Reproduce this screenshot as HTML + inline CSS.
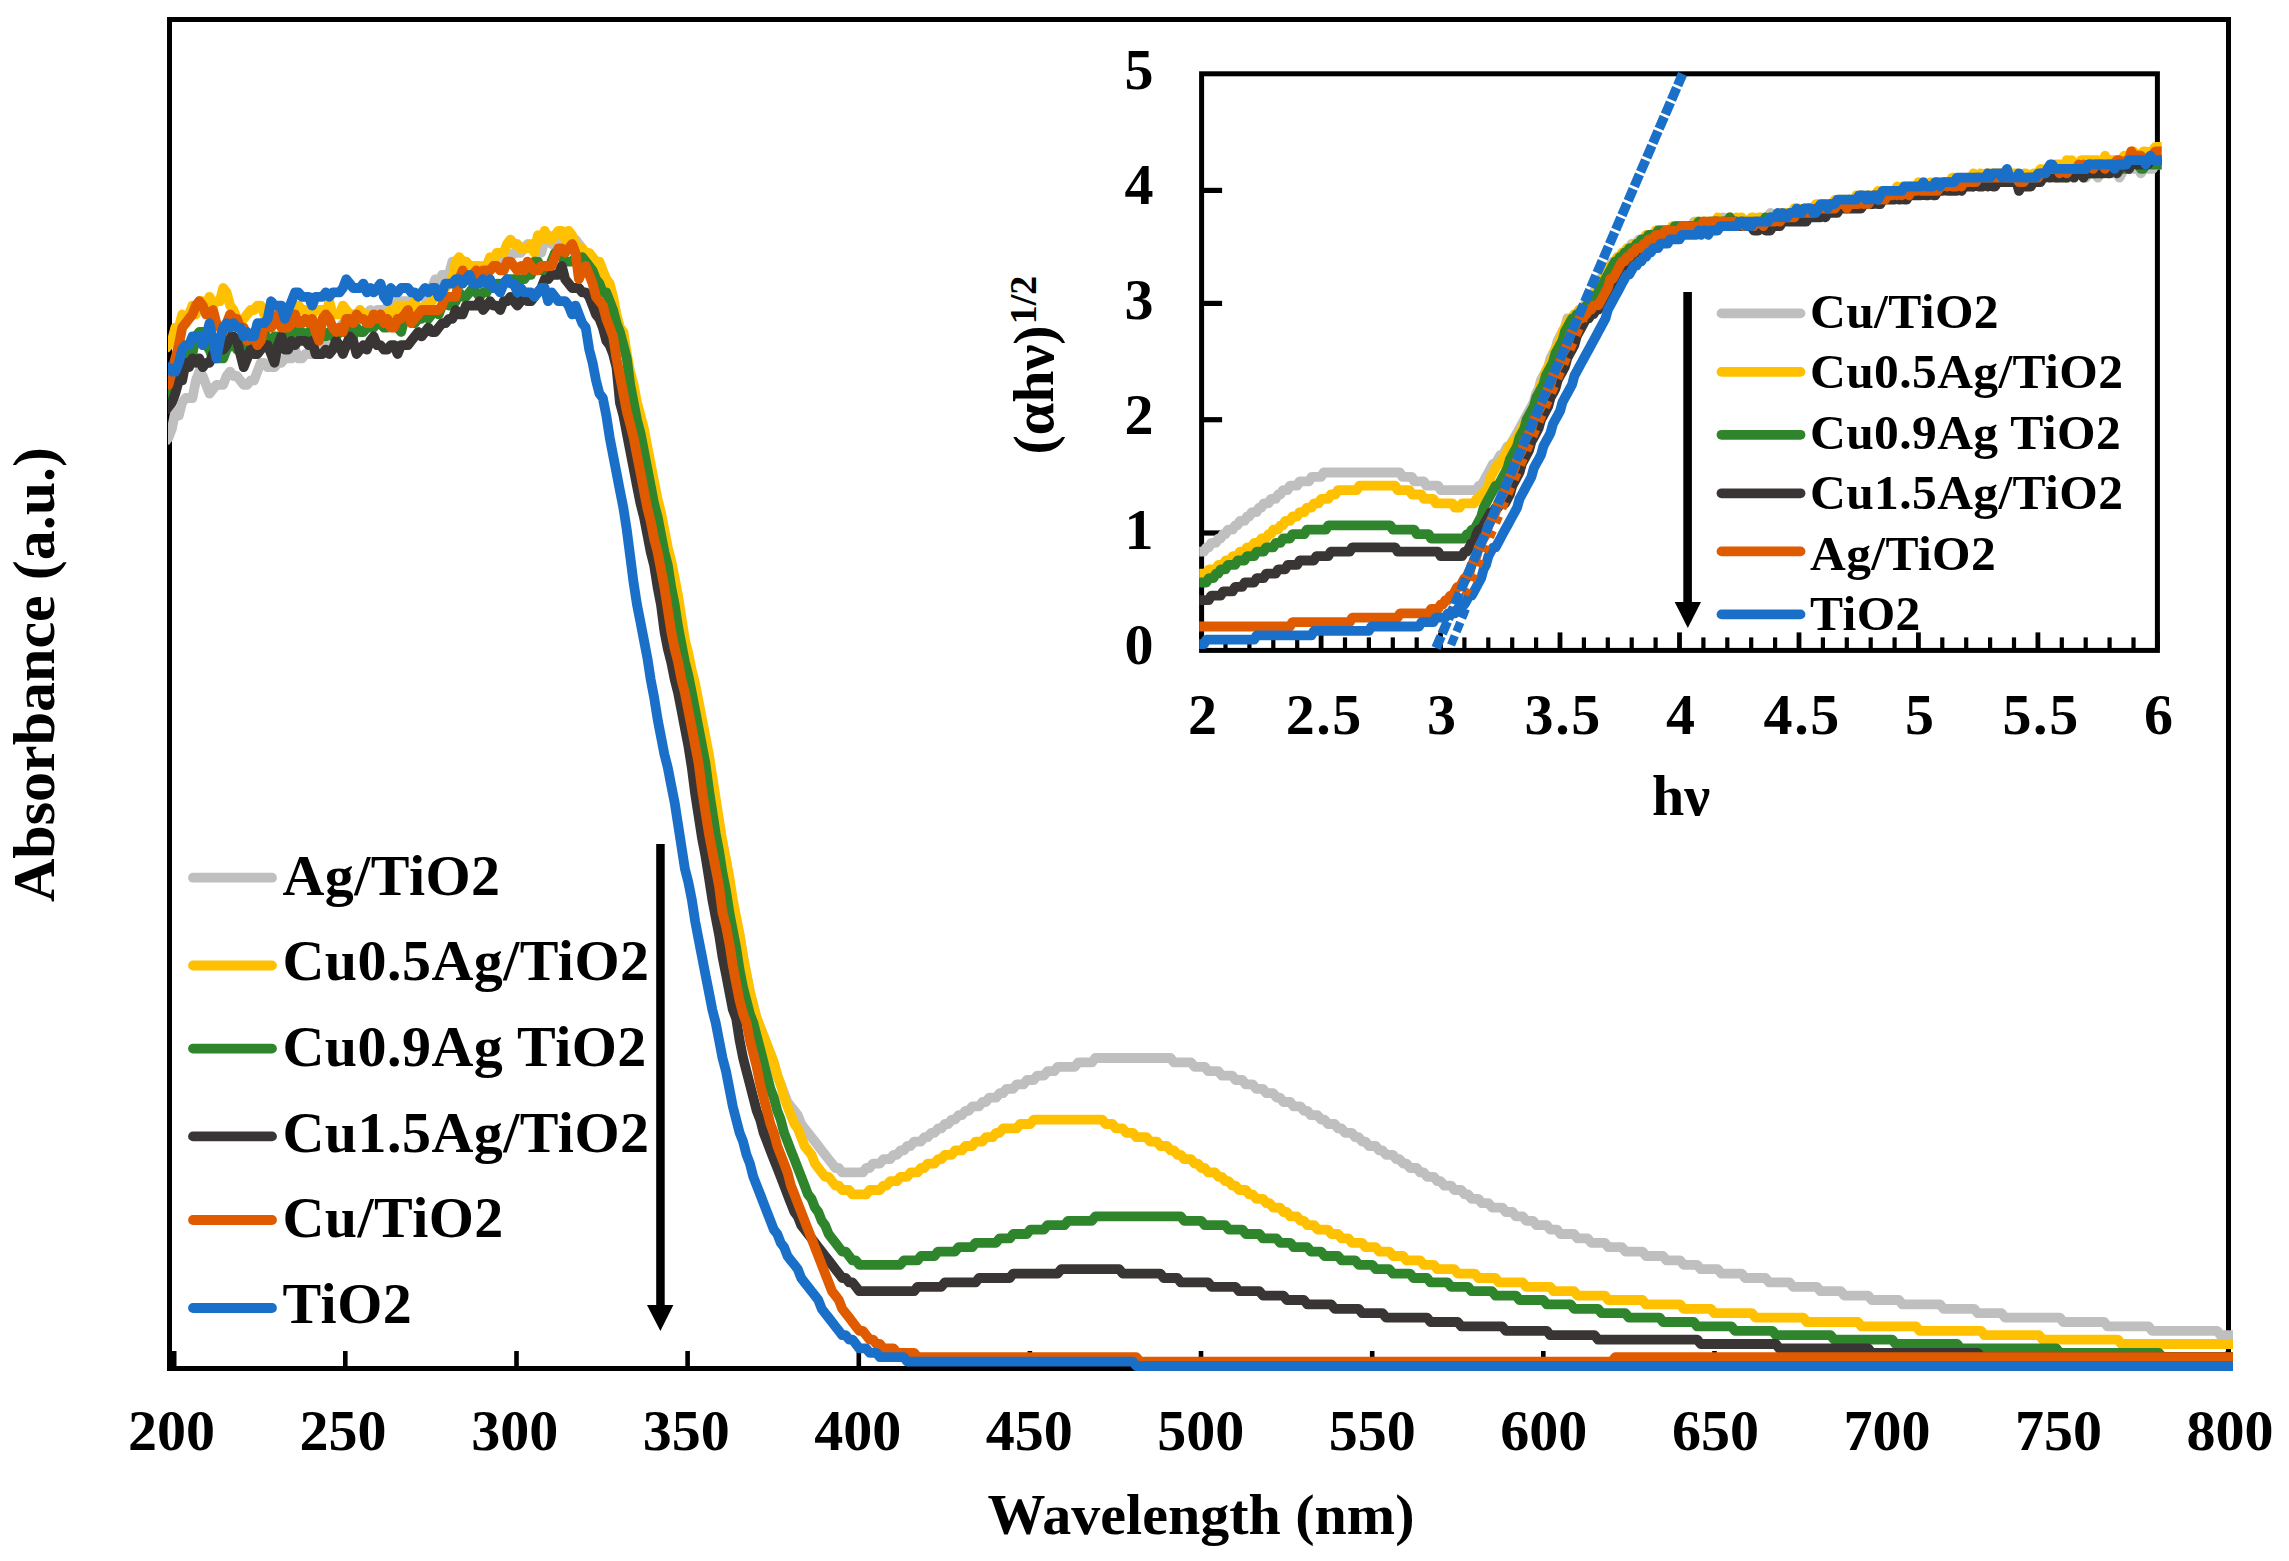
<!DOCTYPE html>
<html lang="en"><head><meta charset="utf-8"><title>UV-Vis absorbance</title>
<style>html,body{margin:0;padding:0;background:#fff}svg{display:block}</style></head>
<body>
<svg width="2289" height="1561" viewBox="0 0 2289 1561" role="img" aria-label="UV-Vis absorbance spectra with Tauc plot inset">
<rect width="2289" height="1561" fill="#fff"/>
<rect x="169.5" y="19.5" width="2059" height="1349" fill="none" stroke="#000" stroke-width="5"/>
<rect x="171.9" y="1351" width="4.6" height="16" fill="#000"/>
<rect x="343.0" y="1351" width="4.6" height="16" fill="#000"/>
<rect x="514.2" y="1351" width="4.6" height="16" fill="#000"/>
<rect x="685.3" y="1351" width="4.6" height="16" fill="#000"/>
<rect x="856.5" y="1351" width="4.6" height="16" fill="#000"/>
<rect x="1027.6" y="1351" width="4.6" height="16" fill="#000"/>
<rect x="1198.7" y="1351" width="4.6" height="16" fill="#000"/>
<rect x="1369.9" y="1351" width="4.6" height="16" fill="#000"/>
<rect x="1541.0" y="1351" width="4.6" height="16" fill="#000"/>
<rect x="1712.2" y="1351" width="4.6" height="16" fill="#000"/>
<rect x="1883.3" y="1351" width="4.6" height="16" fill="#000"/>
<rect x="2054.4" y="1351" width="4.6" height="16" fill="#000"/>
<rect x="2225.6" y="1351" width="4.6" height="16" fill="#000"/>
<defs><clipPath id="cm"><rect x="168" y="0" width="2065" height="1561"/></clipPath><clipPath id="ci"><rect x="1199.2" y="0" width="962.5" height="1561"/></clipPath></defs>
<g clip-path="url(#cm)">
<polyline points="165.1,442.0 168.5,437.6 171.9,428.8 175.3,411.2 178.8,415.6 182.2,402.4 185.6,398.0 189.0,398.0 192.4,398.0 195.9,380.4 199.3,371.6 202.7,376.0 206.1,384.8 209.5,393.6 213.0,389.2 216.4,384.8 219.8,384.8 223.2,384.8 226.6,376.0 230.1,371.6 233.5,376.0 236.9,376.0 240.3,380.4 243.7,384.8 247.2,384.8 250.6,380.4 254.0,380.4 257.4,371.6 260.8,362.8 264.3,362.8 267.7,367.2 271.1,367.2 274.5,367.2 277.9,362.8 281.4,362.8 284.8,358.4 288.2,358.4 291.6,358.4 295.0,349.6 298.5,358.4 301.9,358.4 305.3,354.0 308.7,354.0 312.1,354.0 315.6,354.0 319.0,345.2 322.4,349.6 325.8,349.6 329.2,336.4 332.7,336.4 336.1,336.4 339.5,327.6 342.9,323.2 346.3,318.8 349.8,318.8 353.2,314.4 356.6,318.8 360.0,310.0 363.4,314.4 366.9,314.4 370.3,310.0 373.7,314.4 377.1,310.0 380.5,310.0 384.0,318.8 387.4,305.6 390.8,305.6 394.2,314.4 397.6,301.2 401.1,301.2 404.5,301.2 407.9,301.2 411.3,301.2 414.7,305.6 418.2,310.0 421.6,310.0 425.0,305.6 428.4,296.8 431.8,288.0 435.3,279.2 438.7,283.6 442.1,274.8 445.5,274.8 448.9,274.8 452.4,261.6 455.8,261.6 459.2,261.6 462.6,266.0 466.0,261.6 469.5,266.0 472.9,266.0 476.3,270.4 479.7,274.8 483.1,266.0 486.6,270.4 490.0,270.4 493.4,266.0 496.8,257.2 500.2,261.6 503.7,257.2 507.1,257.2 510.5,257.2 513.9,252.8 517.3,252.8 520.8,252.8 524.2,248.4 527.6,244.0 531.0,248.4 534.4,248.4 537.9,244.0 541.3,252.8 544.7,239.6 548.1,235.2 551.5,244.0 555.0,239.6 558.4,239.6 561.8,239.6 565.2,239.6 568.6,239.6 572.1,239.6 575.5,239.6 578.9,244.0 582.3,248.4 585.7,257.2 589.2,257.2 592.6,266.0 596.0,270.4 599.4,274.8 602.8,283.6 606.3,288.0 609.7,296.8 613.1,305.6 616.5,318.8 619.9,327.6 623.4,340.8 626.8,358.4 630.2,376.0 633.6,393.6 637.0,406.8 640.5,424.4 643.9,437.6 647.3,455.2 650.7,472.8 654.1,490.4 657.6,503.6 661.0,521.2 664.4,538.8 667.8,552.0 671.2,569.6 674.7,587.2 678.1,604.8 681.5,626.8 684.9,644.4 688.3,657.6 691.8,675.2 695.2,688.4 698.6,706.0 702.0,723.6 705.4,741.2 708.9,758.8 712.3,780.8 715.7,802.8 719.1,824.8 722.5,842.4 726.0,860.0 729.4,882.0 732.8,904.0 736.2,921.6 739.6,934.8 743.1,956.8 746.5,974.4 749.9,992.0 753.3,1005.2 756.7,1018.4 760.2,1027.2 763.6,1036.0 767.0,1044.8 770.4,1053.6 773.8,1062.4 777.3,1075.6 780.7,1084.4 784.1,1093.2 787.5,1102.0 790.9,1106.4 794.4,1110.8 797.8,1115.2 801.2,1124.0 804.6,1128.4 808.0,1132.8 811.5,1137.2 814.9,1141.6 818.3,1146.0 821.7,1150.4 825.1,1154.8 828.6,1159.2 832.0,1163.6 835.4,1168.0 838.8,1168.0 842.2,1172.4 845.7,1172.4 849.1,1172.4 852.5,1172.4 855.9,1172.4 859.3,1172.4 862.8,1172.4 866.2,1168.0 869.6,1168.0 873.0,1163.6 876.4,1163.6 879.9,1163.6 883.3,1159.2 886.7,1159.2 890.1,1159.2 893.5,1154.8 897.0,1154.8 900.4,1150.4 903.8,1150.4 907.2,1146.0 910.6,1146.0 914.1,1141.6 917.5,1141.6 920.9,1141.6 924.3,1137.2 927.7,1137.2 931.2,1132.8 934.6,1132.8 938.0,1128.4 941.4,1128.4 944.8,1124.0 948.3,1124.0 951.7,1119.6 955.1,1119.6 958.5,1115.2 961.9,1115.2 965.4,1110.8 968.8,1110.8 972.2,1106.4 975.6,1106.4 979.0,1106.4 982.5,1102.0 985.9,1102.0 989.3,1097.6 992.7,1097.6 996.1,1097.6 999.6,1093.2 1003.0,1093.2 1006.4,1088.8 1009.8,1088.8 1013.2,1088.8 1016.7,1084.4 1020.1,1084.4 1023.5,1084.4 1026.9,1080.0 1030.3,1080.0 1033.8,1080.0 1037.2,1075.6 1040.6,1075.6 1044.0,1075.6 1047.4,1071.2 1050.9,1071.2 1054.3,1071.2 1057.7,1066.8 1061.1,1066.8 1064.5,1066.8 1068.0,1066.8 1071.4,1066.8 1074.8,1066.8 1078.2,1062.4 1081.6,1062.4 1085.1,1062.4 1088.5,1062.4 1091.9,1062.4 1095.3,1058.0 1098.7,1058.0 1102.2,1058.0 1105.6,1058.0 1109.0,1058.0 1112.4,1058.0 1115.8,1058.0 1119.3,1058.0 1122.7,1058.0 1126.1,1058.0 1129.5,1058.0 1132.9,1058.0 1136.4,1058.0 1139.8,1058.0 1143.2,1058.0 1146.6,1058.0 1150.0,1058.0 1153.5,1058.0 1156.9,1058.0 1160.3,1058.0 1163.7,1058.0 1167.1,1058.0 1170.6,1058.0 1174.0,1062.4 1177.4,1062.4 1180.8,1062.4 1184.2,1062.4 1187.7,1062.4 1191.1,1062.4 1194.5,1066.8 1197.9,1066.8 1201.3,1066.8 1204.8,1066.8 1208.2,1071.2 1211.6,1071.2 1215.0,1071.2 1218.4,1071.2 1221.9,1075.6 1225.3,1075.6 1228.7,1075.6 1232.1,1075.6 1235.5,1080.0 1239.0,1080.0 1242.4,1080.0 1245.8,1084.4 1249.2,1084.4 1252.6,1084.4 1256.1,1088.8 1259.5,1088.8 1262.9,1088.8 1266.3,1093.2 1269.7,1093.2 1273.2,1093.2 1276.6,1097.6 1280.0,1097.6 1283.4,1102.0 1286.8,1102.0 1290.3,1102.0 1293.7,1106.4 1297.1,1106.4 1300.5,1106.4 1303.9,1110.8 1307.4,1110.8 1310.8,1115.2 1314.2,1115.2 1317.6,1115.2 1321.0,1119.6 1324.5,1119.6 1327.9,1124.0 1331.3,1124.0 1334.7,1124.0 1338.1,1128.4 1341.6,1128.4 1345.0,1132.8 1348.4,1132.8 1351.8,1132.8 1355.2,1137.2 1358.7,1137.2 1362.1,1141.6 1365.5,1141.6 1368.9,1146.0 1372.3,1146.0 1375.8,1146.0 1379.2,1150.4 1382.6,1150.4 1386.0,1154.8 1389.4,1154.8 1392.9,1154.8 1396.3,1159.2 1399.7,1159.2 1403.1,1163.6 1406.5,1163.6 1410.0,1168.0 1413.4,1168.0 1416.8,1168.0 1420.2,1172.4 1423.6,1172.4 1427.1,1176.8 1430.5,1176.8 1433.9,1176.8 1437.3,1181.2 1440.7,1181.2 1444.2,1185.6 1447.6,1185.6 1451.0,1185.6 1454.4,1190.0 1457.8,1190.0 1461.3,1190.0 1464.7,1194.4 1468.1,1194.4 1471.5,1198.8 1474.9,1198.8 1478.4,1198.8 1481.8,1203.2 1485.2,1203.2 1488.6,1203.2 1492.0,1207.6 1495.5,1207.6 1498.9,1207.6 1502.3,1207.6 1505.7,1212.0 1509.1,1212.0 1512.6,1212.0 1516.0,1216.4 1519.4,1216.4 1522.8,1216.4 1526.2,1220.8 1529.7,1220.8 1533.1,1220.8 1536.5,1225.2 1539.9,1225.2 1543.3,1225.2 1546.8,1225.2 1550.2,1229.6 1553.6,1229.6 1557.0,1229.6 1560.4,1234.0 1563.9,1234.0 1567.3,1234.0 1570.7,1234.0 1574.1,1234.0 1577.5,1238.4 1581.0,1238.4 1584.4,1238.4 1587.8,1238.4 1591.2,1242.8 1594.6,1242.8 1598.1,1242.8 1601.5,1242.8 1604.9,1242.8 1608.3,1247.2 1611.7,1247.2 1615.2,1247.2 1618.6,1247.2 1622.0,1247.2 1625.4,1251.6 1628.8,1251.6 1632.3,1251.6 1635.7,1251.6 1639.1,1251.6 1642.5,1251.6 1645.9,1256.0 1649.4,1256.0 1652.8,1256.0 1656.2,1256.0 1659.6,1256.0 1663.0,1256.0 1666.5,1260.4 1669.9,1260.4 1673.3,1260.4 1676.7,1260.4 1680.1,1260.4 1683.6,1264.8 1687.0,1264.8 1690.4,1264.8 1693.8,1264.8 1697.2,1264.8 1700.7,1269.2 1704.1,1269.2 1707.5,1269.2 1710.9,1269.2 1714.3,1269.2 1717.8,1269.2 1721.2,1273.6 1724.6,1273.6 1728.0,1273.6 1731.4,1273.6 1734.9,1273.6 1738.3,1273.6 1741.7,1273.6 1745.1,1278.0 1748.5,1278.0 1752.0,1278.0 1755.4,1278.0 1758.8,1278.0 1762.2,1278.0 1765.6,1278.0 1769.1,1282.4 1772.5,1282.4 1775.9,1282.4 1779.3,1282.4 1782.7,1282.4 1786.2,1282.4 1789.6,1282.4 1793.0,1286.8 1796.4,1286.8 1799.8,1286.8 1803.3,1286.8 1806.7,1286.8 1810.1,1286.8 1813.5,1286.8 1816.9,1286.8 1820.4,1291.2 1823.8,1291.2 1827.2,1291.2 1830.6,1291.2 1834.0,1291.2 1837.5,1291.2 1840.9,1291.2 1844.3,1295.6 1847.7,1295.6 1851.1,1295.6 1854.6,1295.6 1858.0,1295.6 1861.4,1295.6 1864.8,1295.6 1868.2,1295.6 1871.7,1300.0 1875.1,1300.0 1878.5,1300.0 1881.9,1300.0 1885.3,1300.0 1888.8,1300.0 1892.2,1300.0 1895.6,1300.0 1899.0,1300.0 1902.4,1304.4 1905.9,1304.4 1909.3,1304.4 1912.7,1304.4 1916.1,1304.4 1919.5,1304.4 1923.0,1304.4 1926.4,1304.4 1929.8,1304.4 1933.2,1304.4 1936.6,1304.4 1940.1,1304.4 1943.5,1308.8 1946.9,1308.8 1950.3,1308.8 1953.7,1308.8 1957.2,1308.8 1960.6,1308.8 1964.0,1308.8 1967.4,1308.8 1970.8,1308.8 1974.3,1308.8 1977.7,1313.2 1981.1,1313.2 1984.5,1313.2 1987.9,1313.2 1991.4,1313.2 1994.8,1313.2 1998.2,1313.2 2001.6,1313.2 2005.0,1317.6 2008.5,1317.6 2011.9,1317.6 2015.3,1317.6 2018.7,1317.6 2022.1,1317.6 2025.6,1317.6 2029.0,1317.6 2032.4,1317.6 2035.8,1317.6 2039.2,1317.6 2042.7,1317.6 2046.1,1317.6 2049.5,1317.6 2052.9,1317.6 2056.3,1317.6 2059.8,1317.6 2063.2,1322.0 2066.6,1322.0 2070.0,1322.0 2073.4,1322.0 2076.9,1322.0 2080.3,1322.0 2083.7,1322.0 2087.1,1322.0 2090.5,1322.0 2094.0,1322.0 2097.4,1322.0 2100.8,1322.0 2104.2,1322.0 2107.6,1326.4 2111.1,1326.4 2114.5,1326.4 2117.9,1326.4 2121.3,1326.4 2124.7,1326.4 2128.2,1326.4 2131.6,1326.4 2135.0,1326.4 2138.4,1326.4 2141.8,1326.4 2145.3,1326.4 2148.7,1326.4 2152.1,1330.8 2155.5,1330.8 2158.9,1330.8 2162.4,1330.8 2165.8,1330.8 2169.2,1330.8 2172.6,1330.8 2176.0,1330.8 2179.5,1330.8 2182.9,1330.8 2186.3,1330.8 2189.7,1330.8 2193.1,1330.8 2196.6,1330.8 2200.0,1330.8 2203.4,1330.8 2206.8,1330.8 2210.2,1330.8 2213.7,1330.8 2217.1,1330.8 2220.5,1335.2 2223.9,1335.2 2227.3,1335.2 2236.0,1335.2" fill="none" stroke="#BFBFBF" stroke-width="9.8" stroke-linejoin="round" stroke-linecap="butt" />
<polyline points="165.1,349.6 168.5,345.2 171.9,340.8 175.3,327.6 178.8,327.6 182.2,314.4 185.6,318.8 189.0,314.4 192.4,305.6 195.9,314.4 199.3,301.2 202.7,301.2 206.1,305.6 209.5,296.8 213.0,305.6 216.4,301.2 219.8,301.2 223.2,288.0 226.6,292.4 230.1,305.6 233.5,310.0 236.9,318.8 240.3,323.2 243.7,318.8 247.2,314.4 250.6,310.0 254.0,310.0 257.4,305.6 260.8,305.6 264.3,314.4 267.7,314.4 271.1,318.8 274.5,318.8 277.9,318.8 281.4,318.8 284.8,318.8 288.2,314.4 291.6,310.0 295.0,310.0 298.5,305.6 301.9,310.0 305.3,310.0 308.7,318.8 312.1,314.4 315.6,310.0 319.0,310.0 322.4,310.0 325.8,318.8 329.2,301.2 332.7,314.4 336.1,314.4 339.5,314.4 342.9,305.6 346.3,310.0 349.8,314.4 353.2,314.4 356.6,314.4 360.0,310.0 363.4,314.4 366.9,314.4 370.3,318.8 373.7,314.4 377.1,314.4 380.5,314.4 384.0,314.4 387.4,314.4 390.8,310.0 394.2,314.4 397.6,305.6 401.1,305.6 404.5,305.6 407.9,305.6 411.3,310.0 414.7,301.2 418.2,310.0 421.6,310.0 425.0,305.6 428.4,305.6 431.8,301.2 435.3,296.8 438.7,292.4 442.1,288.0 445.5,288.0 448.9,283.6 452.4,279.2 455.8,261.6 459.2,257.2 462.6,261.6 466.0,261.6 469.5,266.0 472.9,266.0 476.3,266.0 479.7,266.0 483.1,270.4 486.6,266.0 490.0,257.2 493.4,261.6 496.8,252.8 500.2,252.8 503.7,252.8 507.1,244.0 510.5,239.6 513.9,244.0 517.3,244.0 520.8,248.4 524.2,248.4 527.6,248.4 531.0,244.0 534.4,252.8 537.9,235.2 541.3,239.6 544.7,230.8 548.1,239.6 551.5,239.6 555.0,235.2 558.4,230.8 561.8,230.8 565.2,239.6 568.6,230.8 572.1,235.2 575.5,244.0 578.9,248.4 582.3,248.4 585.7,252.8 589.2,252.8 592.6,257.2 596.0,261.6 599.4,261.6 602.8,270.4 606.3,279.2 609.7,283.6 613.1,296.8 616.5,314.4 619.9,327.6 623.4,332.0 626.8,354.0 630.2,371.6 633.6,384.8 637.0,402.4 640.5,415.6 643.9,428.8 647.3,446.4 650.7,464.0 654.1,481.6 657.6,499.2 661.0,512.4 664.4,530.0 667.8,547.6 671.2,560.8 674.7,578.4 678.1,596.0 681.5,618.0 684.9,640.0 688.3,653.2 691.8,670.8 695.2,684.0 698.6,701.6 702.0,719.2 705.4,736.8 708.9,754.4 712.3,776.4 715.7,798.4 719.1,820.4 722.5,842.4 726.0,860.0 729.4,877.6 732.8,899.6 736.2,917.2 739.6,934.8 743.1,956.8 746.5,974.4 749.9,992.0 753.3,1005.2 756.7,1018.4 760.2,1027.2 763.6,1036.0 767.0,1044.8 770.4,1053.6 773.8,1062.4 777.3,1075.6 780.7,1084.4 784.1,1097.6 787.5,1106.4 790.9,1115.2 794.4,1124.0 797.8,1128.4 801.2,1137.2 804.6,1146.0 808.0,1150.4 811.5,1154.8 814.9,1163.6 818.3,1168.0 821.7,1172.4 825.1,1176.8 828.6,1176.8 832.0,1181.2 835.4,1185.6 838.8,1185.6 842.2,1190.0 845.7,1190.0 849.1,1190.0 852.5,1194.4 855.9,1194.4 859.3,1194.4 862.8,1194.4 866.2,1194.4 869.6,1190.0 873.0,1190.0 876.4,1190.0 879.9,1190.0 883.3,1185.6 886.7,1185.6 890.1,1181.2 893.5,1181.2 897.0,1181.2 900.4,1176.8 903.8,1176.8 907.2,1176.8 910.6,1172.4 914.1,1172.4 917.5,1172.4 920.9,1168.0 924.3,1168.0 927.7,1163.6 931.2,1163.6 934.6,1163.6 938.0,1159.2 941.4,1159.2 944.8,1154.8 948.3,1154.8 951.7,1154.8 955.1,1150.4 958.5,1150.4 961.9,1150.4 965.4,1146.0 968.8,1146.0 972.2,1146.0 975.6,1141.6 979.0,1141.6 982.5,1141.6 985.9,1137.2 989.3,1137.2 992.7,1137.2 996.1,1132.8 999.6,1132.8 1003.0,1128.4 1006.4,1128.4 1009.8,1128.4 1013.2,1128.4 1016.7,1128.4 1020.1,1124.0 1023.5,1124.0 1026.9,1124.0 1030.3,1124.0 1033.8,1119.6 1037.2,1119.6 1040.6,1119.6 1044.0,1119.6 1047.4,1119.6 1050.9,1119.6 1054.3,1119.6 1057.7,1119.6 1061.1,1119.6 1064.5,1119.6 1068.0,1119.6 1071.4,1119.6 1074.8,1119.6 1078.2,1119.6 1081.6,1119.6 1085.1,1119.6 1088.5,1119.6 1091.9,1119.6 1095.3,1119.6 1098.7,1119.6 1102.2,1119.6 1105.6,1124.0 1109.0,1124.0 1112.4,1124.0 1115.8,1128.4 1119.3,1128.4 1122.7,1128.4 1126.1,1132.8 1129.5,1132.8 1132.9,1132.8 1136.4,1137.2 1139.8,1137.2 1143.2,1137.2 1146.6,1137.2 1150.0,1141.6 1153.5,1141.6 1156.9,1141.6 1160.3,1146.0 1163.7,1146.0 1167.1,1146.0 1170.6,1150.4 1174.0,1150.4 1177.4,1154.8 1180.8,1154.8 1184.2,1159.2 1187.7,1159.2 1191.1,1159.2 1194.5,1163.6 1197.9,1163.6 1201.3,1168.0 1204.8,1168.0 1208.2,1172.4 1211.6,1172.4 1215.0,1172.4 1218.4,1176.8 1221.9,1176.8 1225.3,1181.2 1228.7,1181.2 1232.1,1185.6 1235.5,1185.6 1239.0,1190.0 1242.4,1190.0 1245.8,1190.0 1249.2,1194.4 1252.6,1194.4 1256.1,1198.8 1259.5,1198.8 1262.9,1198.8 1266.3,1203.2 1269.7,1203.2 1273.2,1207.6 1276.6,1207.6 1280.0,1207.6 1283.4,1212.0 1286.8,1212.0 1290.3,1216.4 1293.7,1216.4 1297.1,1216.4 1300.5,1220.8 1303.9,1220.8 1307.4,1225.2 1310.8,1225.2 1314.2,1225.2 1317.6,1229.6 1321.0,1229.6 1324.5,1229.6 1327.9,1229.6 1331.3,1234.0 1334.7,1234.0 1338.1,1234.0 1341.6,1238.4 1345.0,1238.4 1348.4,1238.4 1351.8,1242.8 1355.2,1242.8 1358.7,1242.8 1362.1,1242.8 1365.5,1247.2 1368.9,1247.2 1372.3,1247.2 1375.8,1247.2 1379.2,1251.6 1382.6,1251.6 1386.0,1251.6 1389.4,1251.6 1392.9,1256.0 1396.3,1256.0 1399.7,1256.0 1403.1,1256.0 1406.5,1260.4 1410.0,1260.4 1413.4,1260.4 1416.8,1260.4 1420.2,1260.4 1423.6,1264.8 1427.1,1264.8 1430.5,1264.8 1433.9,1264.8 1437.3,1269.2 1440.7,1269.2 1444.2,1269.2 1447.6,1269.2 1451.0,1269.2 1454.4,1269.2 1457.8,1273.6 1461.3,1273.6 1464.7,1273.6 1468.1,1273.6 1471.5,1273.6 1474.9,1273.6 1478.4,1278.0 1481.8,1278.0 1485.2,1278.0 1488.6,1278.0 1492.0,1278.0 1495.5,1278.0 1498.9,1282.4 1502.3,1282.4 1505.7,1282.4 1509.1,1282.4 1512.6,1282.4 1516.0,1282.4 1519.4,1282.4 1522.8,1282.4 1526.2,1286.8 1529.7,1286.8 1533.1,1286.8 1536.5,1286.8 1539.9,1286.8 1543.3,1286.8 1546.8,1286.8 1550.2,1286.8 1553.6,1291.2 1557.0,1291.2 1560.4,1291.2 1563.9,1291.2 1567.3,1291.2 1570.7,1291.2 1574.1,1291.2 1577.5,1295.6 1581.0,1295.6 1584.4,1295.6 1587.8,1295.6 1591.2,1295.6 1594.6,1295.6 1598.1,1295.6 1601.5,1295.6 1604.9,1295.6 1608.3,1300.0 1611.7,1300.0 1615.2,1300.0 1618.6,1300.0 1622.0,1300.0 1625.4,1300.0 1628.8,1300.0 1632.3,1300.0 1635.7,1300.0 1639.1,1300.0 1642.5,1300.0 1645.9,1304.4 1649.4,1304.4 1652.8,1304.4 1656.2,1304.4 1659.6,1304.4 1663.0,1304.4 1666.5,1304.4 1669.9,1304.4 1673.3,1304.4 1676.7,1304.4 1680.1,1304.4 1683.6,1308.8 1687.0,1308.8 1690.4,1308.8 1693.8,1308.8 1697.2,1308.8 1700.7,1308.8 1704.1,1308.8 1707.5,1308.8 1710.9,1308.8 1714.3,1313.2 1717.8,1313.2 1721.2,1313.2 1724.6,1313.2 1728.0,1313.2 1731.4,1313.2 1734.9,1313.2 1738.3,1313.2 1741.7,1313.2 1745.1,1313.2 1748.5,1313.2 1752.0,1313.2 1755.4,1317.6 1758.8,1317.6 1762.2,1317.6 1765.6,1317.6 1769.1,1317.6 1772.5,1317.6 1775.9,1317.6 1779.3,1317.6 1782.7,1317.6 1786.2,1317.6 1789.6,1317.6 1793.0,1317.6 1796.4,1317.6 1799.8,1317.6 1803.3,1317.6 1806.7,1322.0 1810.1,1322.0 1813.5,1322.0 1816.9,1322.0 1820.4,1322.0 1823.8,1322.0 1827.2,1322.0 1830.6,1322.0 1834.0,1322.0 1837.5,1322.0 1840.9,1322.0 1844.3,1322.0 1847.7,1322.0 1851.1,1322.0 1854.6,1322.0 1858.0,1322.0 1861.4,1326.4 1864.8,1326.4 1868.2,1326.4 1871.7,1326.4 1875.1,1326.4 1878.5,1326.4 1881.9,1326.4 1885.3,1326.4 1888.8,1326.4 1892.2,1326.4 1895.6,1326.4 1899.0,1326.4 1902.4,1326.4 1905.9,1326.4 1909.3,1326.4 1912.7,1326.4 1916.1,1326.4 1919.5,1330.8 1923.0,1330.8 1926.4,1330.8 1929.8,1330.8 1933.2,1330.8 1936.6,1330.8 1940.1,1330.8 1943.5,1330.8 1946.9,1330.8 1950.3,1330.8 1953.7,1330.8 1957.2,1330.8 1960.6,1330.8 1964.0,1330.8 1967.4,1330.8 1970.8,1330.8 1974.3,1330.8 1977.7,1330.8 1981.1,1330.8 1984.5,1335.2 1987.9,1335.2 1991.4,1335.2 1994.8,1335.2 1998.2,1335.2 2001.6,1335.2 2005.0,1335.2 2008.5,1335.2 2011.9,1335.2 2015.3,1335.2 2018.7,1335.2 2022.1,1335.2 2025.6,1335.2 2029.0,1335.2 2032.4,1335.2 2035.8,1335.2 2039.2,1335.2 2042.7,1339.6 2046.1,1339.6 2049.5,1339.6 2052.9,1339.6 2056.3,1339.6 2059.8,1339.6 2063.2,1339.6 2066.6,1339.6 2070.0,1339.6 2073.4,1339.6 2076.9,1339.6 2080.3,1339.6 2083.7,1339.6 2087.1,1339.6 2090.5,1339.6 2094.0,1339.6 2097.4,1339.6 2100.8,1339.6 2104.2,1339.6 2107.6,1339.6 2111.1,1339.6 2114.5,1339.6 2117.9,1339.6 2121.3,1344.0 2124.7,1344.0 2128.2,1344.0 2131.6,1344.0 2135.0,1344.0 2138.4,1344.0 2141.8,1344.0 2145.3,1344.0 2148.7,1344.0 2152.1,1344.0 2155.5,1344.0 2158.9,1344.0 2162.4,1344.0 2165.8,1344.0 2169.2,1344.0 2172.6,1344.0 2176.0,1344.0 2179.5,1344.0 2182.9,1344.0 2186.3,1344.0 2189.7,1344.0 2193.1,1344.0 2196.6,1344.0 2200.0,1344.0 2203.4,1344.0 2206.8,1344.0 2210.2,1344.0 2213.7,1344.0 2217.1,1344.0 2220.5,1344.0 2223.9,1344.0 2227.3,1344.0 2236.0,1344.0" fill="none" stroke="#FFC000" stroke-width="9.8" stroke-linejoin="round" stroke-linecap="butt" />
<polyline points="165.1,393.6 168.5,398.0 171.9,384.8 175.3,380.4 178.8,376.0 182.2,367.2 185.6,362.8 189.0,354.0 192.4,354.0 195.9,336.4 199.3,332.0 202.7,332.0 206.1,345.2 209.5,349.6 213.0,358.4 216.4,358.4 219.8,358.4 223.2,358.4 226.6,349.6 230.1,345.2 233.5,340.8 236.9,349.6 240.3,349.6 243.7,340.8 247.2,345.2 250.6,345.2 254.0,336.4 257.4,340.8 260.8,345.2 264.3,332.0 267.7,340.8 271.1,345.2 274.5,336.4 277.9,336.4 281.4,340.8 284.8,340.8 288.2,336.4 291.6,327.6 295.0,332.0 298.5,332.0 301.9,332.0 305.3,336.4 308.7,332.0 312.1,332.0 315.6,340.8 319.0,336.4 322.4,332.0 325.8,336.4 329.2,332.0 332.7,336.4 336.1,336.4 339.5,332.0 342.9,332.0 346.3,327.6 349.8,332.0 353.2,336.4 356.6,327.6 360.0,332.0 363.4,332.0 366.9,327.6 370.3,327.6 373.7,327.6 377.1,323.2 380.5,323.2 384.0,327.6 387.4,327.6 390.8,323.2 394.2,323.2 397.6,327.6 401.1,332.0 404.5,318.8 407.9,318.8 411.3,318.8 414.7,323.2 418.2,318.8 421.6,318.8 425.0,314.4 428.4,318.8 431.8,314.4 435.3,310.0 438.7,314.4 442.1,305.6 445.5,301.2 448.9,305.6 452.4,305.6 455.8,301.2 459.2,292.4 462.6,296.8 466.0,296.8 469.5,292.4 472.9,288.0 476.3,292.4 479.7,296.8 483.1,292.4 486.6,292.4 490.0,283.6 493.4,288.0 496.8,283.6 500.2,283.6 503.7,283.6 507.1,279.2 510.5,279.2 513.9,279.2 517.3,279.2 520.8,279.2 524.2,279.2 527.6,274.8 531.0,274.8 534.4,261.6 537.9,261.6 541.3,270.4 544.7,266.0 548.1,270.4 551.5,261.6 555.0,252.8 558.4,252.8 561.8,257.2 565.2,261.6 568.6,261.6 572.1,261.6 575.5,257.2 578.9,261.6 582.3,257.2 585.7,261.6 589.2,266.0 592.6,270.4 596.0,279.2 599.4,283.6 602.8,292.4 606.3,292.4 609.7,301.2 613.1,310.0 616.5,323.2 619.9,332.0 623.4,345.2 626.8,358.4 630.2,384.8 633.6,402.4 637.0,420.0 640.5,433.2 643.9,450.8 647.3,468.4 650.7,486.0 654.1,503.6 657.6,516.8 661.0,534.4 664.4,552.0 667.8,565.2 671.2,587.2 674.7,604.8 678.1,626.8 681.5,644.4 684.9,662.0 688.3,675.2 691.8,692.8 695.2,710.4 698.6,728.0 702.0,745.6 705.4,763.2 708.9,789.6 712.3,811.6 715.7,833.6 719.1,851.2 722.5,873.2 726.0,890.8 729.4,912.8 732.8,930.4 736.2,948.0 739.6,970.0 743.1,987.6 746.5,1000.8 749.9,1014.0 753.3,1022.8 756.7,1036.0 760.2,1049.2 763.6,1062.4 767.0,1075.6 770.4,1088.8 773.8,1097.6 777.3,1110.8 780.7,1119.6 784.1,1132.8 787.5,1141.6 790.9,1150.4 794.4,1159.2 797.8,1168.0 801.2,1176.8 804.6,1185.6 808.0,1194.4 811.5,1198.8 814.9,1207.6 818.3,1212.0 821.7,1220.8 825.1,1225.2 828.6,1234.0 832.0,1238.4 835.4,1242.8 838.8,1247.2 842.2,1251.6 845.7,1251.6 849.1,1256.0 852.5,1260.4 855.9,1260.4 859.3,1264.8 862.8,1264.8 866.2,1264.8 869.6,1264.8 873.0,1264.8 876.4,1264.8 879.9,1264.8 883.3,1264.8 886.7,1264.8 890.1,1264.8 893.5,1264.8 897.0,1264.8 900.4,1264.8 903.8,1260.4 907.2,1260.4 910.6,1260.4 914.1,1260.4 917.5,1260.4 920.9,1256.0 924.3,1256.0 927.7,1256.0 931.2,1256.0 934.6,1256.0 938.0,1251.6 941.4,1251.6 944.8,1251.6 948.3,1251.6 951.7,1251.6 955.1,1251.6 958.5,1247.2 961.9,1247.2 965.4,1247.2 968.8,1247.2 972.2,1247.2 975.6,1242.8 979.0,1242.8 982.5,1242.8 985.9,1242.8 989.3,1242.8 992.7,1242.8 996.1,1242.8 999.6,1238.4 1003.0,1238.4 1006.4,1238.4 1009.8,1238.4 1013.2,1234.0 1016.7,1234.0 1020.1,1234.0 1023.5,1234.0 1026.9,1234.0 1030.3,1229.6 1033.8,1229.6 1037.2,1229.6 1040.6,1229.6 1044.0,1229.6 1047.4,1225.2 1050.9,1225.2 1054.3,1225.2 1057.7,1225.2 1061.1,1225.2 1064.5,1225.2 1068.0,1220.8 1071.4,1220.8 1074.8,1220.8 1078.2,1220.8 1081.6,1220.8 1085.1,1220.8 1088.5,1220.8 1091.9,1220.8 1095.3,1216.4 1098.7,1216.4 1102.2,1216.4 1105.6,1216.4 1109.0,1216.4 1112.4,1216.4 1115.8,1216.4 1119.3,1216.4 1122.7,1216.4 1126.1,1216.4 1129.5,1216.4 1132.9,1216.4 1136.4,1216.4 1139.8,1216.4 1143.2,1216.4 1146.6,1216.4 1150.0,1216.4 1153.5,1216.4 1156.9,1216.4 1160.3,1216.4 1163.7,1216.4 1167.1,1216.4 1170.6,1216.4 1174.0,1216.4 1177.4,1216.4 1180.8,1216.4 1184.2,1220.8 1187.7,1220.8 1191.1,1220.8 1194.5,1220.8 1197.9,1220.8 1201.3,1220.8 1204.8,1225.2 1208.2,1225.2 1211.6,1225.2 1215.0,1225.2 1218.4,1225.2 1221.9,1225.2 1225.3,1225.2 1228.7,1229.6 1232.1,1229.6 1235.5,1229.6 1239.0,1229.6 1242.4,1229.6 1245.8,1234.0 1249.2,1234.0 1252.6,1234.0 1256.1,1234.0 1259.5,1234.0 1262.9,1238.4 1266.3,1238.4 1269.7,1238.4 1273.2,1238.4 1276.6,1238.4 1280.0,1242.8 1283.4,1242.8 1286.8,1242.8 1290.3,1242.8 1293.7,1247.2 1297.1,1247.2 1300.5,1247.2 1303.9,1247.2 1307.4,1247.2 1310.8,1251.6 1314.2,1251.6 1317.6,1251.6 1321.0,1251.6 1324.5,1256.0 1327.9,1256.0 1331.3,1256.0 1334.7,1256.0 1338.1,1256.0 1341.6,1260.4 1345.0,1260.4 1348.4,1260.4 1351.8,1260.4 1355.2,1260.4 1358.7,1264.8 1362.1,1264.8 1365.5,1264.8 1368.9,1264.8 1372.3,1264.8 1375.8,1269.2 1379.2,1269.2 1382.6,1269.2 1386.0,1269.2 1389.4,1269.2 1392.9,1273.6 1396.3,1273.6 1399.7,1273.6 1403.1,1273.6 1406.5,1273.6 1410.0,1273.6 1413.4,1278.0 1416.8,1278.0 1420.2,1278.0 1423.6,1278.0 1427.1,1278.0 1430.5,1282.4 1433.9,1282.4 1437.3,1282.4 1440.7,1282.4 1444.2,1282.4 1447.6,1282.4 1451.0,1286.8 1454.4,1286.8 1457.8,1286.8 1461.3,1286.8 1464.7,1286.8 1468.1,1286.8 1471.5,1291.2 1474.9,1291.2 1478.4,1291.2 1481.8,1291.2 1485.2,1291.2 1488.6,1291.2 1492.0,1291.2 1495.5,1295.6 1498.9,1295.6 1502.3,1295.6 1505.7,1295.6 1509.1,1295.6 1512.6,1295.6 1516.0,1295.6 1519.4,1300.0 1522.8,1300.0 1526.2,1300.0 1529.7,1300.0 1533.1,1300.0 1536.5,1300.0 1539.9,1300.0 1543.3,1300.0 1546.8,1304.4 1550.2,1304.4 1553.6,1304.4 1557.0,1304.4 1560.4,1304.4 1563.9,1304.4 1567.3,1304.4 1570.7,1304.4 1574.1,1308.8 1577.5,1308.8 1581.0,1308.8 1584.4,1308.8 1587.8,1308.8 1591.2,1308.8 1594.6,1308.8 1598.1,1308.8 1601.5,1313.2 1604.9,1313.2 1608.3,1313.2 1611.7,1313.2 1615.2,1313.2 1618.6,1313.2 1622.0,1313.2 1625.4,1313.2 1628.8,1317.6 1632.3,1317.6 1635.7,1317.6 1639.1,1317.6 1642.5,1317.6 1645.9,1317.6 1649.4,1317.6 1652.8,1317.6 1656.2,1317.6 1659.6,1317.6 1663.0,1322.0 1666.5,1322.0 1669.9,1322.0 1673.3,1322.0 1676.7,1322.0 1680.1,1322.0 1683.6,1322.0 1687.0,1322.0 1690.4,1322.0 1693.8,1322.0 1697.2,1326.4 1700.7,1326.4 1704.1,1326.4 1707.5,1326.4 1710.9,1326.4 1714.3,1326.4 1717.8,1326.4 1721.2,1326.4 1724.6,1326.4 1728.0,1326.4 1731.4,1326.4 1734.9,1330.8 1738.3,1330.8 1741.7,1330.8 1745.1,1330.8 1748.5,1330.8 1752.0,1330.8 1755.4,1330.8 1758.8,1330.8 1762.2,1330.8 1765.6,1330.8 1769.1,1330.8 1772.5,1330.8 1775.9,1335.2 1779.3,1335.2 1782.7,1335.2 1786.2,1335.2 1789.6,1335.2 1793.0,1335.2 1796.4,1335.2 1799.8,1335.2 1803.3,1335.2 1806.7,1335.2 1810.1,1335.2 1813.5,1335.2 1816.9,1335.2 1820.4,1335.2 1823.8,1335.2 1827.2,1335.2 1830.6,1335.2 1834.0,1339.6 1837.5,1339.6 1840.9,1339.6 1844.3,1339.6 1847.7,1339.6 1851.1,1339.6 1854.6,1339.6 1858.0,1339.6 1861.4,1339.6 1864.8,1339.6 1868.2,1339.6 1871.7,1339.6 1875.1,1339.6 1878.5,1339.6 1881.9,1339.6 1885.3,1339.6 1888.8,1339.6 1892.2,1339.6 1895.6,1344.0 1899.0,1344.0 1902.4,1344.0 1905.9,1344.0 1909.3,1344.0 1912.7,1344.0 1916.1,1344.0 1919.5,1344.0 1923.0,1344.0 1926.4,1344.0 1929.8,1344.0 1933.2,1344.0 1936.6,1344.0 1940.1,1344.0 1943.5,1344.0 1946.9,1344.0 1950.3,1344.0 1953.7,1344.0 1957.2,1344.0 1960.6,1348.4 1964.0,1348.4 1967.4,1348.4 1970.8,1348.4 1974.3,1348.4 1977.7,1348.4 1981.1,1348.4 1984.5,1348.4 1987.9,1348.4 1991.4,1348.4 1994.8,1348.4 1998.2,1348.4 2001.6,1348.4 2005.0,1348.4 2008.5,1348.4 2011.9,1348.4 2015.3,1348.4 2018.7,1348.4 2022.1,1348.4 2025.6,1348.4 2029.0,1348.4 2032.4,1348.4 2035.8,1348.4 2039.2,1348.4 2042.7,1348.4 2046.1,1348.4 2049.5,1348.4 2052.9,1348.4 2056.3,1348.4 2059.8,1352.8 2063.2,1352.8 2066.6,1352.8 2070.0,1352.8 2073.4,1352.8 2076.9,1352.8 2080.3,1352.8 2083.7,1352.8 2087.1,1352.8 2090.5,1352.8 2094.0,1352.8 2097.4,1352.8 2100.8,1352.8 2104.2,1352.8 2107.6,1352.8 2111.1,1352.8 2114.5,1352.8 2117.9,1352.8 2121.3,1352.8 2124.7,1352.8 2128.2,1352.8 2131.6,1352.8 2135.0,1352.8 2138.4,1352.8 2141.8,1352.8 2145.3,1352.8 2148.7,1352.8 2152.1,1352.8 2155.5,1352.8 2158.9,1352.8 2162.4,1357.2 2165.8,1357.2 2169.2,1357.2 2172.6,1357.2 2176.0,1357.2 2179.5,1357.2 2182.9,1357.2 2186.3,1357.2 2189.7,1357.2 2193.1,1357.2 2196.6,1357.2 2200.0,1357.2 2203.4,1357.2 2206.8,1357.2 2210.2,1357.2 2213.7,1357.2 2217.1,1357.2 2220.5,1357.2 2223.9,1357.2 2227.3,1357.2 2236.0,1357.2" fill="none" stroke="#2E852B" stroke-width="9.8" stroke-linejoin="round" stroke-linecap="butt" />
<polyline points="165.1,411.2 168.5,406.8 171.9,402.4 175.3,393.6 178.8,380.4 182.2,380.4 185.6,362.8 189.0,367.2 192.4,358.4 195.9,362.8 199.3,358.4 202.7,367.2 206.1,362.8 209.5,362.8 213.0,354.0 216.4,354.0 219.8,349.6 223.2,349.6 226.6,345.2 230.1,336.4 233.5,336.4 236.9,340.8 240.3,354.0 243.7,367.2 247.2,358.4 250.6,349.6 254.0,354.0 257.4,354.0 260.8,349.6 264.3,345.2 267.7,345.2 271.1,354.0 274.5,362.8 277.9,345.2 281.4,336.4 284.8,349.6 288.2,349.6 291.6,340.8 295.0,345.2 298.5,340.8 301.9,340.8 305.3,340.8 308.7,345.2 312.1,340.8 315.6,354.0 319.0,354.0 322.4,354.0 325.8,349.6 329.2,354.0 332.7,349.6 336.1,340.8 339.5,345.2 342.9,354.0 346.3,345.2 349.8,336.4 353.2,340.8 356.6,354.0 360.0,349.6 363.4,345.2 366.9,349.6 370.3,340.8 373.7,336.4 377.1,345.2 380.5,345.2 384.0,349.6 387.4,349.6 390.8,345.2 394.2,345.2 397.6,354.0 401.1,345.2 404.5,345.2 407.9,345.2 411.3,340.8 414.7,336.4 418.2,332.0 421.6,336.4 425.0,332.0 428.4,327.6 431.8,332.0 435.3,332.0 438.7,327.6 442.1,323.2 445.5,323.2 448.9,318.8 452.4,318.8 455.8,310.0 459.2,314.4 462.6,314.4 466.0,305.6 469.5,305.6 472.9,305.6 476.3,305.6 479.7,301.2 483.1,310.0 486.6,305.6 490.0,301.2 493.4,305.6 496.8,305.6 500.2,310.0 503.7,301.2 507.1,301.2 510.5,296.8 513.9,301.2 517.3,305.6 520.8,301.2 524.2,296.8 527.6,301.2 531.0,301.2 534.4,296.8 537.9,292.4 541.3,288.0 544.7,279.2 548.1,279.2 551.5,274.8 555.0,274.8 558.4,274.8 561.8,266.0 565.2,279.2 568.6,283.6 572.1,288.0 575.5,288.0 578.9,288.0 582.3,292.4 585.7,292.4 589.2,296.8 592.6,305.6 596.0,314.4 599.4,318.8 602.8,327.6 606.3,340.8 609.7,345.2 613.1,354.0 616.5,367.2 619.9,402.4 623.4,415.6 626.8,433.2 630.2,450.8 633.6,468.4 637.0,486.0 640.5,503.6 643.9,516.8 647.3,534.4 650.7,552.0 654.1,565.2 657.6,587.2 661.0,604.8 664.4,631.2 667.8,648.8 671.2,662.0 674.7,679.6 678.1,692.8 681.5,710.4 684.9,728.0 688.3,745.6 691.8,767.6 695.2,794.0 698.6,816.0 702.0,838.0 705.4,855.6 708.9,877.6 712.3,899.6 715.7,917.2 719.1,934.8 722.5,956.8 726.0,974.4 729.4,992.0 732.8,1009.6 736.2,1018.4 739.6,1040.4 743.1,1058.0 746.5,1071.2 749.9,1084.4 753.3,1097.6 756.7,1110.8 760.2,1119.6 763.6,1132.8 767.0,1141.6 770.4,1150.4 773.8,1159.2 777.3,1168.0 780.7,1176.8 784.1,1185.6 787.5,1194.4 790.9,1203.2 794.4,1212.0 797.8,1216.4 801.2,1225.2 804.6,1229.6 808.0,1234.0 811.5,1238.4 814.9,1242.8 818.3,1247.2 821.7,1251.6 825.1,1256.0 828.6,1260.4 832.0,1264.8 835.4,1269.2 838.8,1273.6 842.2,1278.0 845.7,1278.0 849.1,1282.4 852.5,1282.4 855.9,1286.8 859.3,1291.2 862.8,1291.2 866.2,1291.2 869.6,1291.2 873.0,1291.2 876.4,1291.2 879.9,1291.2 883.3,1291.2 886.7,1291.2 890.1,1291.2 893.5,1291.2 897.0,1291.2 900.4,1291.2 903.8,1291.2 907.2,1291.2 910.6,1291.2 914.1,1291.2 917.5,1286.8 920.9,1286.8 924.3,1286.8 927.7,1286.8 931.2,1286.8 934.6,1286.8 938.0,1286.8 941.4,1286.8 944.8,1282.4 948.3,1282.4 951.7,1282.4 955.1,1282.4 958.5,1282.4 961.9,1282.4 965.4,1282.4 968.8,1282.4 972.2,1282.4 975.6,1282.4 979.0,1278.0 982.5,1278.0 985.9,1278.0 989.3,1278.0 992.7,1278.0 996.1,1278.0 999.6,1278.0 1003.0,1278.0 1006.4,1278.0 1009.8,1278.0 1013.2,1273.6 1016.7,1273.6 1020.1,1273.6 1023.5,1273.6 1026.9,1273.6 1030.3,1273.6 1033.8,1273.6 1037.2,1273.6 1040.6,1273.6 1044.0,1273.6 1047.4,1273.6 1050.9,1273.6 1054.3,1273.6 1057.7,1273.6 1061.1,1269.2 1064.5,1269.2 1068.0,1269.2 1071.4,1269.2 1074.8,1269.2 1078.2,1269.2 1081.6,1269.2 1085.1,1269.2 1088.5,1269.2 1091.9,1269.2 1095.3,1269.2 1098.7,1269.2 1102.2,1269.2 1105.6,1269.2 1109.0,1269.2 1112.4,1269.2 1115.8,1269.2 1119.3,1269.2 1122.7,1273.6 1126.1,1273.6 1129.5,1273.6 1132.9,1273.6 1136.4,1273.6 1139.8,1273.6 1143.2,1273.6 1146.6,1273.6 1150.0,1273.6 1153.5,1273.6 1156.9,1273.6 1160.3,1273.6 1163.7,1278.0 1167.1,1278.0 1170.6,1278.0 1174.0,1278.0 1177.4,1278.0 1180.8,1282.4 1184.2,1282.4 1187.7,1282.4 1191.1,1282.4 1194.5,1282.4 1197.9,1282.4 1201.3,1282.4 1204.8,1282.4 1208.2,1282.4 1211.6,1286.8 1215.0,1286.8 1218.4,1286.8 1221.9,1286.8 1225.3,1286.8 1228.7,1286.8 1232.1,1286.8 1235.5,1286.8 1239.0,1291.2 1242.4,1291.2 1245.8,1291.2 1249.2,1291.2 1252.6,1291.2 1256.1,1291.2 1259.5,1291.2 1262.9,1295.6 1266.3,1295.6 1269.7,1295.6 1273.2,1295.6 1276.6,1295.6 1280.0,1295.6 1283.4,1295.6 1286.8,1300.0 1290.3,1300.0 1293.7,1300.0 1297.1,1300.0 1300.5,1300.0 1303.9,1300.0 1307.4,1304.4 1310.8,1304.4 1314.2,1304.4 1317.6,1304.4 1321.0,1304.4 1324.5,1304.4 1327.9,1304.4 1331.3,1304.4 1334.7,1308.8 1338.1,1308.8 1341.6,1308.8 1345.0,1308.8 1348.4,1308.8 1351.8,1308.8 1355.2,1308.8 1358.7,1308.8 1362.1,1313.2 1365.5,1313.2 1368.9,1313.2 1372.3,1313.2 1375.8,1313.2 1379.2,1313.2 1382.6,1313.2 1386.0,1317.6 1389.4,1317.6 1392.9,1317.6 1396.3,1317.6 1399.7,1317.6 1403.1,1317.6 1406.5,1317.6 1410.0,1317.6 1413.4,1317.6 1416.8,1317.6 1420.2,1317.6 1423.6,1317.6 1427.1,1317.6 1430.5,1322.0 1433.9,1322.0 1437.3,1322.0 1440.7,1322.0 1444.2,1322.0 1447.6,1322.0 1451.0,1322.0 1454.4,1322.0 1457.8,1322.0 1461.3,1326.4 1464.7,1326.4 1468.1,1326.4 1471.5,1326.4 1474.9,1326.4 1478.4,1326.4 1481.8,1326.4 1485.2,1326.4 1488.6,1326.4 1492.0,1326.4 1495.5,1326.4 1498.9,1326.4 1502.3,1326.4 1505.7,1330.8 1509.1,1330.8 1512.6,1330.8 1516.0,1330.8 1519.4,1330.8 1522.8,1330.8 1526.2,1330.8 1529.7,1330.8 1533.1,1330.8 1536.5,1330.8 1539.9,1330.8 1543.3,1330.8 1546.8,1330.8 1550.2,1335.2 1553.6,1335.2 1557.0,1335.2 1560.4,1335.2 1563.9,1335.2 1567.3,1335.2 1570.7,1335.2 1574.1,1335.2 1577.5,1335.2 1581.0,1335.2 1584.4,1335.2 1587.8,1335.2 1591.2,1335.2 1594.6,1335.2 1598.1,1339.6 1601.5,1339.6 1604.9,1339.6 1608.3,1339.6 1611.7,1339.6 1615.2,1339.6 1618.6,1339.6 1622.0,1339.6 1625.4,1339.6 1628.8,1339.6 1632.3,1339.6 1635.7,1339.6 1639.1,1339.6 1642.5,1339.6 1645.9,1339.6 1649.4,1339.6 1652.8,1339.6 1656.2,1339.6 1659.6,1339.6 1663.0,1339.6 1666.5,1339.6 1669.9,1339.6 1673.3,1339.6 1676.7,1339.6 1680.1,1339.6 1683.6,1339.6 1687.0,1339.6 1690.4,1339.6 1693.8,1339.6 1697.2,1339.6 1700.7,1344.0 1704.1,1344.0 1707.5,1344.0 1710.9,1344.0 1714.3,1344.0 1717.8,1344.0 1721.2,1344.0 1724.6,1344.0 1728.0,1344.0 1731.4,1344.0 1734.9,1344.0 1738.3,1344.0 1741.7,1344.0 1745.1,1344.0 1748.5,1344.0 1752.0,1344.0 1755.4,1344.0 1758.8,1344.0 1762.2,1344.0 1765.6,1344.0 1769.1,1344.0 1772.5,1344.0 1775.9,1344.0 1779.3,1348.4 1782.7,1348.4 1786.2,1348.4 1789.6,1348.4 1793.0,1348.4 1796.4,1348.4 1799.8,1348.4 1803.3,1348.4 1806.7,1348.4 1810.1,1348.4 1813.5,1348.4 1816.9,1348.4 1820.4,1348.4 1823.8,1348.4 1827.2,1348.4 1830.6,1348.4 1834.0,1348.4 1837.5,1348.4 1840.9,1348.4 1844.3,1348.4 1847.7,1348.4 1851.1,1348.4 1854.6,1348.4 1858.0,1348.4 1861.4,1348.4 1864.8,1348.4 1868.2,1348.4 1871.7,1352.8 1875.1,1352.8 1878.5,1352.8 1881.9,1352.8 1885.3,1352.8 1888.8,1352.8 1892.2,1352.8 1895.6,1352.8 1899.0,1352.8 1902.4,1352.8 1905.9,1352.8 1909.3,1352.8 1912.7,1352.8 1916.1,1352.8 1919.5,1352.8 1923.0,1352.8 1926.4,1352.8 1929.8,1352.8 1933.2,1352.8 1936.6,1352.8 1940.1,1352.8 1943.5,1352.8 1946.9,1352.8 1950.3,1352.8 1953.7,1352.8 1957.2,1352.8 1960.6,1352.8 1964.0,1352.8 1967.4,1352.8 1970.8,1352.8 1974.3,1352.8 1977.7,1352.8 1981.1,1357.2 1984.5,1357.2 1987.9,1357.2 1991.4,1357.2 1994.8,1357.2 1998.2,1357.2 2001.6,1357.2 2005.0,1357.2 2008.5,1357.2 2011.9,1357.2 2015.3,1357.2 2018.7,1357.2 2022.1,1357.2 2025.6,1357.2 2029.0,1357.2 2032.4,1357.2 2035.8,1357.2 2039.2,1357.2 2042.7,1357.2 2046.1,1357.2 2049.5,1357.2 2052.9,1357.2 2056.3,1357.2 2059.8,1357.2 2063.2,1357.2 2066.6,1357.2 2070.0,1357.2 2073.4,1357.2 2076.9,1357.2 2080.3,1357.2 2083.7,1357.2 2087.1,1357.2 2090.5,1357.2 2094.0,1357.2 2097.4,1357.2 2100.8,1357.2 2104.2,1357.2 2107.6,1357.2 2111.1,1357.2 2114.5,1357.2 2117.9,1357.2 2121.3,1357.2 2124.7,1357.2 2128.2,1357.2 2131.6,1357.2 2135.0,1357.2 2138.4,1357.2 2141.8,1357.2 2145.3,1357.2 2148.7,1357.2 2152.1,1357.2 2155.5,1357.2 2158.9,1357.2 2162.4,1357.2 2165.8,1357.2 2169.2,1357.2 2172.6,1357.2 2176.0,1357.2 2179.5,1357.2 2182.9,1357.2 2186.3,1357.2 2189.7,1357.2 2193.1,1357.2 2196.6,1357.2 2200.0,1357.2 2203.4,1357.2 2206.8,1357.2 2210.2,1357.2 2213.7,1357.2 2217.1,1357.2 2220.5,1357.2 2223.9,1357.2 2227.3,1357.2 2236.0,1357.2" fill="none" stroke="#3A3535" stroke-width="9.8" stroke-linejoin="round" stroke-linecap="butt" />
<polyline points="165.1,384.8 168.5,384.8 171.9,371.6 175.3,358.4 178.8,345.2 182.2,327.6 185.6,323.2 189.0,318.8 192.4,314.4 195.9,305.6 199.3,301.2 202.7,305.6 206.1,314.4 209.5,314.4 213.0,310.0 216.4,323.2 219.8,327.6 223.2,332.0 226.6,323.2 230.1,314.4 233.5,318.8 236.9,318.8 240.3,327.6 243.7,327.6 247.2,340.8 250.6,336.4 254.0,336.4 257.4,345.2 260.8,340.8 264.3,323.2 267.7,323.2 271.1,327.6 274.5,323.2 277.9,314.4 281.4,327.6 284.8,327.6 288.2,327.6 291.6,323.2 295.0,314.4 298.5,323.2 301.9,323.2 305.3,318.8 308.7,323.2 312.1,318.8 315.6,332.0 319.0,340.8 322.4,318.8 325.8,314.4 329.2,318.8 332.7,327.6 336.1,332.0 339.5,327.6 342.9,332.0 346.3,318.8 349.8,318.8 353.2,323.2 356.6,314.4 360.0,318.8 363.4,318.8 366.9,323.2 370.3,323.2 373.7,314.4 377.1,318.8 380.5,314.4 384.0,323.2 387.4,318.8 390.8,327.6 394.2,327.6 397.6,318.8 401.1,318.8 404.5,314.4 407.9,310.0 411.3,323.2 414.7,318.8 418.2,314.4 421.6,310.0 425.0,310.0 428.4,310.0 431.8,310.0 435.3,310.0 438.7,310.0 442.1,305.6 445.5,296.8 448.9,296.8 452.4,296.8 455.8,296.8 459.2,279.2 462.6,270.4 466.0,279.2 469.5,279.2 472.9,274.8 476.3,270.4 479.7,279.2 483.1,270.4 486.6,270.4 490.0,270.4 493.4,266.0 496.8,266.0 500.2,270.4 503.7,270.4 507.1,261.6 510.5,261.6 513.9,266.0 517.3,270.4 520.8,266.0 524.2,270.4 527.6,261.6 531.0,266.0 534.4,270.4 537.9,270.4 541.3,266.0 544.7,266.0 548.1,266.0 551.5,266.0 555.0,257.2 558.4,248.4 561.8,248.4 565.2,252.8 568.6,248.4 572.1,244.0 575.5,252.8 578.9,279.2 582.3,270.4 585.7,266.0 589.2,274.8 592.6,283.6 596.0,296.8 599.4,301.2 602.8,305.6 606.3,318.8 609.7,327.6 613.1,336.4 616.5,358.4 619.9,376.0 623.4,393.6 626.8,411.2 630.2,424.4 633.6,437.6 637.0,455.2 640.5,472.8 643.9,490.4 647.3,508.0 650.7,521.2 654.1,538.8 657.6,552.0 661.0,569.6 664.4,587.2 667.8,609.2 671.2,631.2 674.7,648.8 678.1,662.0 681.5,679.6 684.9,692.8 688.3,710.4 691.8,728.0 695.2,745.6 698.6,763.2 702.0,789.6 705.4,811.6 708.9,833.6 712.3,851.2 715.7,868.8 719.1,886.4 722.5,912.8 726.0,926.0 729.4,943.6 732.8,965.6 736.2,983.2 739.6,1000.8 743.1,1014.0 746.5,1022.8 749.9,1040.4 753.3,1053.6 756.7,1066.8 760.2,1084.4 763.6,1097.6 767.0,1110.8 770.4,1124.0 773.8,1132.8 777.3,1146.0 780.7,1154.8 784.1,1163.6 787.5,1172.4 790.9,1185.6 794.4,1194.4 797.8,1203.2 801.2,1212.0 804.6,1220.8 808.0,1229.6 811.5,1238.4 814.9,1247.2 818.3,1256.0 821.7,1264.8 825.1,1273.6 828.6,1282.4 832.0,1291.2 835.4,1295.6 838.8,1300.0 842.2,1308.8 845.7,1313.2 849.1,1317.6 852.5,1322.0 855.9,1326.4 859.3,1330.8 862.8,1330.8 866.2,1335.2 869.6,1339.6 873.0,1339.6 876.4,1344.0 879.9,1344.0 883.3,1348.4 886.7,1348.4 890.1,1348.4 893.5,1348.4 897.0,1352.8 900.4,1352.8 903.8,1352.8 907.2,1352.8 910.6,1352.8 914.1,1352.8 917.5,1357.2 920.9,1357.2 924.3,1357.2 927.7,1357.2 931.2,1357.2 934.6,1357.2 938.0,1357.2 941.4,1357.2 944.8,1357.2 948.3,1357.2 951.7,1357.2 955.1,1357.2 958.5,1357.2 961.9,1357.2 965.4,1357.2 968.8,1357.2 972.2,1357.2 975.6,1357.2 979.0,1357.2 982.5,1357.2 985.9,1357.2 989.3,1357.2 992.7,1357.2 996.1,1357.2 999.6,1357.2 1003.0,1357.2 1006.4,1357.2 1009.8,1357.2 1013.2,1357.2 1016.7,1357.2 1020.1,1357.2 1023.5,1357.2 1026.9,1357.2 1030.3,1357.2 1033.8,1357.2 1037.2,1357.2 1040.6,1357.2 1044.0,1357.2 1047.4,1357.2 1050.9,1357.2 1054.3,1357.2 1057.7,1357.2 1061.1,1357.2 1064.5,1357.2 1068.0,1357.2 1071.4,1357.2 1074.8,1357.2 1078.2,1357.2 1081.6,1357.2 1085.1,1357.2 1088.5,1357.2 1091.9,1357.2 1095.3,1357.2 1098.7,1357.2 1102.2,1357.2 1105.6,1357.2 1109.0,1357.2 1112.4,1357.2 1115.8,1357.2 1119.3,1357.2 1122.7,1357.2 1126.1,1357.2 1129.5,1357.2 1132.9,1357.2 1136.4,1357.2 1139.8,1361.6 1143.2,1361.6 1146.6,1361.6 1150.0,1361.6 1153.5,1361.6 1156.9,1361.6 1160.3,1361.6 1163.7,1361.6 1167.1,1361.6 1170.6,1361.6 1174.0,1361.6 1177.4,1361.6 1180.8,1361.6 1184.2,1361.6 1187.7,1361.6 1191.1,1361.6 1194.5,1361.6 1197.9,1361.6 1201.3,1361.6 1204.8,1361.6 1208.2,1361.6 1211.6,1361.6 1215.0,1361.6 1218.4,1361.6 1221.9,1361.6 1225.3,1361.6 1228.7,1361.6 1232.1,1361.6 1235.5,1361.6 1239.0,1361.6 1242.4,1361.6 1245.8,1361.6 1249.2,1361.6 1252.6,1361.6 1256.1,1361.6 1259.5,1361.6 1262.9,1361.6 1266.3,1361.6 1269.7,1361.6 1273.2,1361.6 1276.6,1361.6 1280.0,1361.6 1283.4,1361.6 1286.8,1361.6 1290.3,1361.6 1293.7,1361.6 1297.1,1361.6 1300.5,1361.6 1303.9,1361.6 1307.4,1361.6 1310.8,1361.6 1314.2,1361.6 1317.6,1361.6 1321.0,1361.6 1324.5,1361.6 1327.9,1361.6 1331.3,1361.6 1334.7,1361.6 1338.1,1361.6 1341.6,1361.6 1345.0,1361.6 1348.4,1361.6 1351.8,1361.6 1355.2,1361.6 1358.7,1361.6 1362.1,1361.6 1365.5,1361.6 1368.9,1361.6 1372.3,1361.6 1375.8,1361.6 1379.2,1361.6 1382.6,1361.6 1386.0,1361.6 1389.4,1361.6 1392.9,1361.6 1396.3,1361.6 1399.7,1361.6 1403.1,1361.6 1406.5,1361.6 1410.0,1361.6 1413.4,1361.6 1416.8,1361.6 1420.2,1361.6 1423.6,1361.6 1427.1,1361.6 1430.5,1361.6 1433.9,1361.6 1437.3,1361.6 1440.7,1361.6 1444.2,1361.6 1447.6,1361.6 1451.0,1361.6 1454.4,1361.6 1457.8,1361.6 1461.3,1361.6 1464.7,1361.6 1468.1,1361.6 1471.5,1361.6 1474.9,1361.6 1478.4,1361.6 1481.8,1361.6 1485.2,1361.6 1488.6,1361.6 1492.0,1361.6 1495.5,1361.6 1498.9,1361.6 1502.3,1361.6 1505.7,1361.6 1509.1,1361.6 1512.6,1361.6 1516.0,1361.6 1519.4,1361.6 1522.8,1361.6 1526.2,1361.6 1529.7,1361.6 1533.1,1361.6 1536.5,1361.6 1539.9,1361.6 1543.3,1361.6 1546.8,1361.6 1550.2,1361.6 1553.6,1361.6 1557.0,1361.6 1560.4,1361.6 1563.9,1361.6 1567.3,1361.6 1570.7,1361.6 1574.1,1361.6 1577.5,1361.6 1581.0,1361.6 1584.4,1361.6 1587.8,1361.6 1591.2,1361.6 1594.6,1361.6 1598.1,1361.6 1601.5,1361.6 1604.9,1361.6 1608.3,1361.6 1611.7,1361.6 1615.2,1357.2 1618.6,1357.2 1622.0,1357.2 1625.4,1357.2 1628.8,1357.2 1632.3,1357.2 1635.7,1357.2 1639.1,1357.2 1642.5,1357.2 1645.9,1357.2 1649.4,1357.2 1652.8,1357.2 1656.2,1357.2 1659.6,1357.2 1663.0,1357.2 1666.5,1357.2 1669.9,1357.2 1673.3,1357.2 1676.7,1357.2 1680.1,1357.2 1683.6,1357.2 1687.0,1357.2 1690.4,1357.2 1693.8,1357.2 1697.2,1357.2 1700.7,1357.2 1704.1,1357.2 1707.5,1357.2 1710.9,1357.2 1714.3,1357.2 1717.8,1357.2 1721.2,1357.2 1724.6,1357.2 1728.0,1357.2 1731.4,1357.2 1734.9,1357.2 1738.3,1357.2 1741.7,1357.2 1745.1,1357.2 1748.5,1357.2 1752.0,1357.2 1755.4,1357.2 1758.8,1357.2 1762.2,1357.2 1765.6,1357.2 1769.1,1357.2 1772.5,1357.2 1775.9,1357.2 1779.3,1357.2 1782.7,1357.2 1786.2,1357.2 1789.6,1357.2 1793.0,1357.2 1796.4,1357.2 1799.8,1357.2 1803.3,1357.2 1806.7,1357.2 1810.1,1357.2 1813.5,1357.2 1816.9,1357.2 1820.4,1357.2 1823.8,1357.2 1827.2,1357.2 1830.6,1357.2 1834.0,1357.2 1837.5,1357.2 1840.9,1357.2 1844.3,1357.2 1847.7,1357.2 1851.1,1357.2 1854.6,1357.2 1858.0,1357.2 1861.4,1357.2 1864.8,1357.2 1868.2,1357.2 1871.7,1357.2 1875.1,1357.2 1878.5,1357.2 1881.9,1357.2 1885.3,1357.2 1888.8,1357.2 1892.2,1357.2 1895.6,1357.2 1899.0,1357.2 1902.4,1357.2 1905.9,1357.2 1909.3,1357.2 1912.7,1357.2 1916.1,1357.2 1919.5,1357.2 1923.0,1357.2 1926.4,1357.2 1929.8,1357.2 1933.2,1357.2 1936.6,1357.2 1940.1,1357.2 1943.5,1357.2 1946.9,1357.2 1950.3,1357.2 1953.7,1357.2 1957.2,1357.2 1960.6,1357.2 1964.0,1357.2 1967.4,1357.2 1970.8,1357.2 1974.3,1357.2 1977.7,1357.2 1981.1,1357.2 1984.5,1357.2 1987.9,1357.2 1991.4,1357.2 1994.8,1357.2 1998.2,1357.2 2001.6,1357.2 2005.0,1357.2 2008.5,1357.2 2011.9,1357.2 2015.3,1357.2 2018.7,1357.2 2022.1,1357.2 2025.6,1357.2 2029.0,1357.2 2032.4,1357.2 2035.8,1357.2 2039.2,1357.2 2042.7,1357.2 2046.1,1357.2 2049.5,1357.2 2052.9,1357.2 2056.3,1357.2 2059.8,1357.2 2063.2,1357.2 2066.6,1357.2 2070.0,1357.2 2073.4,1357.2 2076.9,1357.2 2080.3,1357.2 2083.7,1357.2 2087.1,1357.2 2090.5,1357.2 2094.0,1357.2 2097.4,1357.2 2100.8,1357.2 2104.2,1357.2 2107.6,1357.2 2111.1,1357.2 2114.5,1357.2 2117.9,1357.2 2121.3,1357.2 2124.7,1357.2 2128.2,1357.2 2131.6,1357.2 2135.0,1357.2 2138.4,1357.2 2141.8,1357.2 2145.3,1357.2 2148.7,1357.2 2152.1,1357.2 2155.5,1357.2 2158.9,1357.2 2162.4,1357.2 2165.8,1357.2 2169.2,1357.2 2172.6,1357.2 2176.0,1357.2 2179.5,1357.2 2182.9,1357.2 2186.3,1357.2 2189.7,1357.2 2193.1,1357.2 2196.6,1357.2 2200.0,1357.2 2203.4,1357.2 2206.8,1357.2 2210.2,1357.2 2213.7,1357.2 2217.1,1357.2 2220.5,1357.2 2223.9,1357.2 2227.3,1357.2 2236.0,1357.2" fill="none" stroke="#E05A00" stroke-width="9.8" stroke-linejoin="round" stroke-linecap="butt" />
<polyline points="165.1,371.6 168.5,367.2 171.9,371.6 175.3,371.6 178.8,362.8 182.2,349.6 185.6,345.2 189.0,345.2 192.4,336.4 195.9,336.4 199.3,336.4 202.7,345.2 206.1,336.4 209.5,323.2 213.0,340.8 216.4,358.4 219.8,340.8 223.2,327.6 226.6,323.2 230.1,327.6 233.5,323.2 236.9,327.6 240.3,327.6 243.7,336.4 247.2,332.0 250.6,336.4 254.0,336.4 257.4,323.2 260.8,323.2 264.3,323.2 267.7,318.8 271.1,301.2 274.5,305.6 277.9,305.6 281.4,305.6 284.8,318.8 288.2,310.0 291.6,301.2 295.0,292.4 298.5,292.4 301.9,296.8 305.3,296.8 308.7,296.8 312.1,305.6 315.6,296.8 319.0,296.8 322.4,296.8 325.8,292.4 329.2,296.8 332.7,292.4 336.1,292.4 339.5,292.4 342.9,288.0 346.3,279.2 349.8,283.6 353.2,288.0 356.6,288.0 360.0,288.0 363.4,283.6 366.9,292.4 370.3,288.0 373.7,292.4 377.1,288.0 380.5,283.6 384.0,296.8 387.4,301.2 390.8,288.0 394.2,292.4 397.6,292.4 401.1,288.0 404.5,288.0 407.9,288.0 411.3,292.4 414.7,292.4 418.2,296.8 421.6,292.4 425.0,288.0 428.4,292.4 431.8,288.0 435.3,288.0 438.7,296.8 442.1,292.4 445.5,283.6 448.9,283.6 452.4,283.6 455.8,279.2 459.2,279.2 462.6,283.6 466.0,279.2 469.5,274.8 472.9,283.6 476.3,283.6 479.7,283.6 483.1,279.2 486.6,283.6 490.0,279.2 493.4,288.0 496.8,288.0 500.2,292.4 503.7,283.6 507.1,279.2 510.5,283.6 513.9,283.6 517.3,292.4 520.8,288.0 524.2,292.4 527.6,292.4 531.0,292.4 534.4,296.8 537.9,292.4 541.3,288.0 544.7,288.0 548.1,301.2 551.5,292.4 555.0,296.8 558.4,301.2 561.8,301.2 565.2,301.2 568.6,305.6 572.1,314.4 575.5,305.6 578.9,314.4 582.3,323.2 585.7,327.6 589.2,349.6 592.6,362.8 596.0,380.4 599.4,393.6 602.8,398.0 606.3,415.6 609.7,437.6 613.1,455.2 616.5,472.8 619.9,490.4 623.4,508.0 626.8,530.0 630.2,556.4 633.6,582.8 637.0,604.8 640.5,622.4 643.9,640.0 647.3,657.6 650.7,679.6 654.1,697.2 657.6,719.2 661.0,736.8 664.4,754.4 667.8,767.6 671.2,785.2 674.7,802.8 678.1,824.8 681.5,846.8 684.9,868.8 688.3,882.0 691.8,899.6 695.2,921.6 698.6,939.2 702.0,956.8 705.4,974.4 708.9,992.0 712.3,1009.6 715.7,1022.8 719.1,1040.4 722.5,1058.0 726.0,1071.2 729.4,1088.8 732.8,1106.4 736.2,1119.6 739.6,1132.8 743.1,1141.6 746.5,1154.8 749.9,1163.6 753.3,1176.8 756.7,1185.6 760.2,1194.4 763.6,1203.2 767.0,1212.0 770.4,1220.8 773.8,1229.6 777.3,1234.0 780.7,1242.8 784.1,1247.2 787.5,1256.0 790.9,1260.4 794.4,1264.8 797.8,1269.2 801.2,1278.0 804.6,1282.4 808.0,1286.8 811.5,1291.2 814.9,1295.6 818.3,1300.0 821.7,1308.8 825.1,1313.2 828.6,1317.6 832.0,1322.0 835.4,1326.4 838.8,1330.8 842.2,1335.2 845.7,1335.2 849.1,1339.6 852.5,1339.6 855.9,1344.0 859.3,1348.4 862.8,1348.4 866.2,1348.4 869.6,1352.8 873.0,1352.8 876.4,1352.8 879.9,1357.2 883.3,1357.2 886.7,1357.2 890.1,1357.2 893.5,1357.2 897.0,1357.2 900.4,1357.2 903.8,1357.2 907.2,1361.6 910.6,1361.6 914.1,1361.6 917.5,1361.6 920.9,1361.6 924.3,1361.6 927.7,1361.6 931.2,1361.6 934.6,1361.6 938.0,1361.6 941.4,1361.6 944.8,1361.6 948.3,1361.6 951.7,1361.6 955.1,1361.6 958.5,1361.6 961.9,1361.6 965.4,1361.6 968.8,1361.6 972.2,1361.6 975.6,1361.6 979.0,1361.6 982.5,1361.6 985.9,1361.6 989.3,1361.6 992.7,1361.6 996.1,1361.6 999.6,1361.6 1003.0,1361.6 1006.4,1361.6 1009.8,1361.6 1013.2,1361.6 1016.7,1361.6 1020.1,1361.6 1023.5,1361.6 1026.9,1361.6 1030.3,1361.6 1033.8,1361.6 1037.2,1361.6 1040.6,1361.6 1044.0,1361.6 1047.4,1361.6 1050.9,1361.6 1054.3,1361.6 1057.7,1361.6 1061.1,1361.6 1064.5,1361.6 1068.0,1361.6 1071.4,1361.6 1074.8,1361.6 1078.2,1361.6 1081.6,1361.6 1085.1,1361.6 1088.5,1361.6 1091.9,1361.6 1095.3,1361.6 1098.7,1361.6 1102.2,1361.6 1105.6,1361.6 1109.0,1361.6 1112.4,1361.6 1115.8,1361.6 1119.3,1361.6 1122.7,1361.6 1126.1,1361.6 1129.5,1361.6 1132.9,1361.6 1136.4,1366.0 1139.8,1366.0 1143.2,1366.0 1146.6,1366.0 1150.0,1366.0 1153.5,1366.0 1156.9,1366.0 1160.3,1366.0 1163.7,1366.0 1167.1,1366.0 1170.6,1366.0 1174.0,1366.0 1177.4,1366.0 1180.8,1366.0 1184.2,1366.0 1187.7,1366.0 1191.1,1366.0 1194.5,1366.0 1197.9,1366.0 1201.3,1366.0 1204.8,1366.0 1208.2,1366.0 1211.6,1366.0 1215.0,1366.0 1218.4,1366.0 1221.9,1366.0 1225.3,1366.0 1228.7,1366.0 1232.1,1366.0 1235.5,1366.0 1239.0,1366.0 1242.4,1366.0 1245.8,1366.0 1249.2,1366.0 1252.6,1366.0 1256.1,1366.0 1259.5,1366.0 1262.9,1366.0 1266.3,1366.0 1269.7,1366.0 1273.2,1366.0 1276.6,1366.0 1280.0,1366.0 1283.4,1366.0 1286.8,1366.0 1290.3,1366.0 1293.7,1366.0 1297.1,1366.0 1300.5,1366.0 1303.9,1366.0 1307.4,1366.0 1310.8,1366.0 1314.2,1366.0 1317.6,1366.0 1321.0,1366.0 1324.5,1366.0 1327.9,1366.0 1331.3,1366.0 1334.7,1366.0 1338.1,1366.0 1341.6,1366.0 1345.0,1366.0 1348.4,1366.0 1351.8,1366.0 1355.2,1366.0 1358.7,1366.0 1362.1,1366.0 1365.5,1366.0 1368.9,1366.0 1372.3,1366.0 1375.8,1366.0 1379.2,1366.0 1382.6,1366.0 1386.0,1366.0 1389.4,1366.0 1392.9,1366.0 1396.3,1366.0 1399.7,1366.0 1403.1,1366.0 1406.5,1366.0 1410.0,1366.0 1413.4,1366.0 1416.8,1366.0 1420.2,1366.0 1423.6,1366.0 1427.1,1366.0 1430.5,1366.0 1433.9,1366.0 1437.3,1366.0 1440.7,1366.0 1444.2,1366.0 1447.6,1366.0 1451.0,1366.0 1454.4,1366.0 1457.8,1366.0 1461.3,1366.0 1464.7,1366.0 1468.1,1366.0 1471.5,1366.0 1474.9,1366.0 1478.4,1366.0 1481.8,1366.0 1485.2,1366.0 1488.6,1366.0 1492.0,1366.0 1495.5,1366.0 1498.9,1366.0 1502.3,1366.0 1505.7,1366.0 1509.1,1366.0 1512.6,1366.0 1516.0,1366.0 1519.4,1366.0 1522.8,1366.0 1526.2,1366.0 1529.7,1366.0 1533.1,1366.0 1536.5,1366.0 1539.9,1366.0 1543.3,1366.0 1546.8,1366.0 1550.2,1366.0 1553.6,1366.0 1557.0,1366.0 1560.4,1366.0 1563.9,1366.0 1567.3,1366.0 1570.7,1366.0 1574.1,1366.0 1577.5,1366.0 1581.0,1366.0 1584.4,1366.0 1587.8,1366.0 1591.2,1366.0 1594.6,1366.0 1598.1,1366.0 1601.5,1366.0 1604.9,1366.0 1608.3,1366.0 1611.7,1366.0 1615.2,1366.0 1618.6,1366.0 1622.0,1366.0 1625.4,1366.0 1628.8,1366.0 1632.3,1366.0 1635.7,1366.0 1639.1,1366.0 1642.5,1366.0 1645.9,1366.0 1649.4,1366.0 1652.8,1366.0 1656.2,1366.0 1659.6,1366.0 1663.0,1366.0 1666.5,1366.0 1669.9,1366.0 1673.3,1366.0 1676.7,1366.0 1680.1,1366.0 1683.6,1366.0 1687.0,1366.0 1690.4,1366.0 1693.8,1366.0 1697.2,1366.0 1700.7,1366.0 1704.1,1366.0 1707.5,1366.0 1710.9,1366.0 1714.3,1366.0 1717.8,1366.0 1721.2,1366.0 1724.6,1366.0 1728.0,1366.0 1731.4,1366.0 1734.9,1366.0 1738.3,1366.0 1741.7,1366.0 1745.1,1366.0 1748.5,1366.0 1752.0,1366.0 1755.4,1366.0 1758.8,1366.0 1762.2,1366.0 1765.6,1366.0 1769.1,1366.0 1772.5,1366.0 1775.9,1366.0 1779.3,1366.0 1782.7,1366.0 1786.2,1366.0 1789.6,1366.0 1793.0,1366.0 1796.4,1366.0 1799.8,1366.0 1803.3,1366.0 1806.7,1366.0 1810.1,1366.0 1813.5,1366.0 1816.9,1366.0 1820.4,1366.0 1823.8,1366.0 1827.2,1366.0 1830.6,1366.0 1834.0,1366.0 1837.5,1366.0 1840.9,1366.0 1844.3,1366.0 1847.7,1366.0 1851.1,1366.0 1854.6,1366.0 1858.0,1366.0 1861.4,1366.0 1864.8,1366.0 1868.2,1366.0 1871.7,1366.0 1875.1,1366.0 1878.5,1366.0 1881.9,1366.0 1885.3,1366.0 1888.8,1366.0 1892.2,1366.0 1895.6,1366.0 1899.0,1366.0 1902.4,1366.0 1905.9,1366.0 1909.3,1366.0 1912.7,1366.0 1916.1,1366.0 1919.5,1366.0 1923.0,1366.0 1926.4,1366.0 1929.8,1366.0 1933.2,1366.0 1936.6,1366.0 1940.1,1366.0 1943.5,1366.0 1946.9,1366.0 1950.3,1366.0 1953.7,1366.0 1957.2,1366.0 1960.6,1366.0 1964.0,1366.0 1967.4,1366.0 1970.8,1366.0 1974.3,1366.0 1977.7,1366.0 1981.1,1366.0 1984.5,1366.0 1987.9,1366.0 1991.4,1366.0 1994.8,1366.0 1998.2,1366.0 2001.6,1366.0 2005.0,1366.0 2008.5,1366.0 2011.9,1366.0 2015.3,1366.0 2018.7,1366.0 2022.1,1366.0 2025.6,1366.0 2029.0,1366.0 2032.4,1366.0 2035.8,1366.0 2039.2,1366.0 2042.7,1366.0 2046.1,1366.0 2049.5,1366.0 2052.9,1366.0 2056.3,1366.0 2059.8,1366.0 2063.2,1366.0 2066.6,1366.0 2070.0,1366.0 2073.4,1366.0 2076.9,1366.0 2080.3,1366.0 2083.7,1366.0 2087.1,1366.0 2090.5,1366.0 2094.0,1366.0 2097.4,1366.0 2100.8,1366.0 2104.2,1366.0 2107.6,1366.0 2111.1,1366.0 2114.5,1366.0 2117.9,1366.0 2121.3,1366.0 2124.7,1366.0 2128.2,1366.0 2131.6,1366.0 2135.0,1366.0 2138.4,1366.0 2141.8,1366.0 2145.3,1366.0 2148.7,1366.0 2152.1,1366.0 2155.5,1366.0 2158.9,1366.0 2162.4,1366.0 2165.8,1366.0 2169.2,1366.0 2172.6,1366.0 2176.0,1366.0 2179.5,1366.0 2182.9,1366.0 2186.3,1366.0 2189.7,1366.0 2193.1,1366.0 2196.6,1366.0 2200.0,1366.0 2203.4,1366.0 2206.8,1366.0 2210.2,1366.0 2213.7,1366.0 2217.1,1366.0 2220.5,1366.0 2223.9,1366.0 2227.3,1366.0 2236.0,1366.0" fill="none" stroke="#1A70C9" stroke-width="9.8" stroke-linejoin="round" stroke-linecap="butt" />
</g>
<rect x="656.2" y="844" width="8.5" height="470" fill="#000"/>
<polygon points="647,1305 673.4,1305 660.4,1331" fill="#000"/>
<line x1="193" y1="877.7" x2="272" y2="877.7" stroke="#BFBFBF" stroke-width="9.8" stroke-linecap="round"/>
<text x="282.5" y="894.7" font-family="Liberation Serif, serif" font-weight="bold" font-size="58" letter-spacing="0.45">Ag/TiO2</text>
<line x1="193" y1="965.5" x2="272" y2="965.5" stroke="#FFC000" stroke-width="9.8" stroke-linecap="round"/>
<text x="282.5" y="980.4" font-family="Liberation Serif, serif" font-weight="bold" font-size="58" letter-spacing="0.45">Cu0.5Ag/TiO2</text>
<line x1="193" y1="1048.6" x2="272" y2="1048.6" stroke="#2E852B" stroke-width="9.8" stroke-linecap="round"/>
<text x="282.5" y="1066.0" font-family="Liberation Serif, serif" font-weight="bold" font-size="58" letter-spacing="0.45">Cu0.9Ag TiO2</text>
<line x1="193" y1="1136.4" x2="272" y2="1136.4" stroke="#3A3535" stroke-width="9.8" stroke-linecap="round"/>
<text x="282.5" y="1151.7" font-family="Liberation Serif, serif" font-weight="bold" font-size="58" letter-spacing="0.45">Cu1.5Ag/TiO2</text>
<line x1="193" y1="1220.0" x2="272" y2="1220.0" stroke="#E05A00" stroke-width="9.8" stroke-linecap="round"/>
<text x="282.5" y="1237.3" font-family="Liberation Serif, serif" font-weight="bold" font-size="58" letter-spacing="0.45">Cu/TiO2</text>
<line x1="193" y1="1308.0" x2="272" y2="1308.0" stroke="#1A70C9" stroke-width="9.8" stroke-linecap="round"/>
<text x="282.5" y="1323.0" font-family="Liberation Serif, serif" font-weight="bold" font-size="58" letter-spacing="0.45">TiO2</text>
<text x="171.6" y="1450.3" font-family="Liberation Serif, serif" font-weight="bold" font-size="58" text-anchor="middle">200</text>
<text x="343.1" y="1450.3" font-family="Liberation Serif, serif" font-weight="bold" font-size="58" text-anchor="middle">250</text>
<text x="514.7" y="1450.3" font-family="Liberation Serif, serif" font-weight="bold" font-size="58" text-anchor="middle">300</text>
<text x="686.2" y="1450.3" font-family="Liberation Serif, serif" font-weight="bold" font-size="58" text-anchor="middle">350</text>
<text x="857.7" y="1450.3" font-family="Liberation Serif, serif" font-weight="bold" font-size="58" text-anchor="middle">400</text>
<text x="1029.2" y="1450.3" font-family="Liberation Serif, serif" font-weight="bold" font-size="58" text-anchor="middle">450</text>
<text x="1200.8" y="1450.3" font-family="Liberation Serif, serif" font-weight="bold" font-size="58" text-anchor="middle">500</text>
<text x="1372.3" y="1450.3" font-family="Liberation Serif, serif" font-weight="bold" font-size="58" text-anchor="middle">550</text>
<text x="1543.8" y="1450.3" font-family="Liberation Serif, serif" font-weight="bold" font-size="58" text-anchor="middle">600</text>
<text x="1715.4" y="1450.3" font-family="Liberation Serif, serif" font-weight="bold" font-size="58" text-anchor="middle">650</text>
<text x="1886.9" y="1450.3" font-family="Liberation Serif, serif" font-weight="bold" font-size="58" text-anchor="middle">700</text>
<text x="2058.4" y="1450.3" font-family="Liberation Serif, serif" font-weight="bold" font-size="58" text-anchor="middle">750</text>
<text x="2230.0" y="1450.3" font-family="Liberation Serif, serif" font-weight="bold" font-size="58" text-anchor="middle">800</text>
<text x="1201" y="1533.7" font-family="Liberation Serif, serif" font-weight="bold" font-size="58" text-anchor="middle">Wavelength (nm)</text>
<text transform="translate(53.5,674.5) rotate(-90)" font-family="Liberation Serif, serif" font-weight="bold" font-size="60" text-anchor="middle">Absorbance (a.u.)</text>
<rect x="1201.6" y="73.8" width="955.8" height="576.6" fill="none" stroke="#000" stroke-width="5"/>
<rect x="1201.6" y="530.4" width="20.5" height="5.2" fill="#000"/>
<rect x="1201.6" y="417.1" width="20.5" height="5.2" fill="#000"/>
<rect x="1201.6" y="300.8" width="20.5" height="5.2" fill="#000"/>
<rect x="1201.6" y="187.8" width="20.5" height="5.2" fill="#000"/>
<text x="1153.5" y="664.3" font-family="Liberation Serif, serif" font-weight="bold" font-size="58" text-anchor="end">0</text>
<text x="1153.5" y="549.3" font-family="Liberation Serif, serif" font-weight="bold" font-size="58" text-anchor="end">1</text>
<text x="1153.5" y="434.3" font-family="Liberation Serif, serif" font-weight="bold" font-size="58" text-anchor="end">2</text>
<text x="1153.5" y="319.3" font-family="Liberation Serif, serif" font-weight="bold" font-size="58" text-anchor="end">3</text>
<text x="1153.5" y="204.3" font-family="Liberation Serif, serif" font-weight="bold" font-size="58" text-anchor="end">4</text>
<text x="1153.5" y="89.3" font-family="Liberation Serif, serif" font-weight="bold" font-size="58" text-anchor="end">5</text>
<rect x="1199.2" y="632.4" width="4.8" height="17" fill="#000"/>
<rect x="1223.4" y="637.4" width="4.2" height="12" fill="#000"/>
<rect x="1247.3" y="637.4" width="4.2" height="12" fill="#000"/>
<rect x="1271.2" y="637.4" width="4.2" height="12" fill="#000"/>
<rect x="1295.1" y="637.4" width="4.2" height="12" fill="#000"/>
<rect x="1318.7" y="632.4" width="4.8" height="17" fill="#000"/>
<rect x="1342.9" y="637.4" width="4.2" height="12" fill="#000"/>
<rect x="1366.8" y="637.4" width="4.2" height="12" fill="#000"/>
<rect x="1390.7" y="637.4" width="4.2" height="12" fill="#000"/>
<rect x="1414.6" y="637.4" width="4.2" height="12" fill="#000"/>
<rect x="1438.1" y="632.4" width="4.8" height="17" fill="#000"/>
<rect x="1462.3" y="637.4" width="4.2" height="12" fill="#000"/>
<rect x="1486.2" y="637.4" width="4.2" height="12" fill="#000"/>
<rect x="1510.1" y="637.4" width="4.2" height="12" fill="#000"/>
<rect x="1534.0" y="637.4" width="4.2" height="12" fill="#000"/>
<rect x="1557.6" y="632.4" width="4.8" height="17" fill="#000"/>
<rect x="1581.8" y="637.4" width="4.2" height="12" fill="#000"/>
<rect x="1605.7" y="637.4" width="4.2" height="12" fill="#000"/>
<rect x="1629.6" y="637.4" width="4.2" height="12" fill="#000"/>
<rect x="1653.5" y="637.4" width="4.2" height="12" fill="#000"/>
<rect x="1677.1" y="632.4" width="4.8" height="17" fill="#000"/>
<rect x="1701.3" y="637.4" width="4.2" height="12" fill="#000"/>
<rect x="1725.2" y="637.4" width="4.2" height="12" fill="#000"/>
<rect x="1749.1" y="637.4" width="4.2" height="12" fill="#000"/>
<rect x="1773.0" y="637.4" width="4.2" height="12" fill="#000"/>
<rect x="1796.6" y="632.4" width="4.8" height="17" fill="#000"/>
<rect x="1820.8" y="637.4" width="4.2" height="12" fill="#000"/>
<rect x="1844.7" y="637.4" width="4.2" height="12" fill="#000"/>
<rect x="1868.6" y="637.4" width="4.2" height="12" fill="#000"/>
<rect x="1892.5" y="637.4" width="4.2" height="12" fill="#000"/>
<rect x="1916.0" y="632.4" width="4.8" height="17" fill="#000"/>
<rect x="1940.2" y="637.4" width="4.2" height="12" fill="#000"/>
<rect x="1964.1" y="637.4" width="4.2" height="12" fill="#000"/>
<rect x="1988.0" y="637.4" width="4.2" height="12" fill="#000"/>
<rect x="2011.9" y="637.4" width="4.2" height="12" fill="#000"/>
<rect x="2035.5" y="632.4" width="4.8" height="17" fill="#000"/>
<rect x="2059.7" y="637.4" width="4.2" height="12" fill="#000"/>
<rect x="2083.6" y="637.4" width="4.2" height="12" fill="#000"/>
<rect x="2107.5" y="637.4" width="4.2" height="12" fill="#000"/>
<rect x="2131.4" y="637.4" width="4.2" height="12" fill="#000"/>
<rect x="2155.0" y="632.4" width="4.8" height="17" fill="#000"/>
<text x="1202.6" y="733.5" font-family="Liberation Serif, serif" font-weight="bold" font-size="58" text-anchor="middle">2</text>
<text x="1324.3" y="733.5" font-family="Liberation Serif, serif" font-weight="bold" font-size="58" text-anchor="middle" letter-spacing="1.6">2.5</text>
<text x="1441.5" y="733.5" font-family="Liberation Serif, serif" font-weight="bold" font-size="58" text-anchor="middle">3</text>
<text x="1563.2" y="733.5" font-family="Liberation Serif, serif" font-weight="bold" font-size="58" text-anchor="middle" letter-spacing="1.6">3.5</text>
<text x="1680.5" y="733.5" font-family="Liberation Serif, serif" font-weight="bold" font-size="58" text-anchor="middle">4</text>
<text x="1802.2" y="733.5" font-family="Liberation Serif, serif" font-weight="bold" font-size="58" text-anchor="middle" letter-spacing="1.6">4.5</text>
<text x="1919.5" y="733.5" font-family="Liberation Serif, serif" font-weight="bold" font-size="58" text-anchor="middle">5</text>
<text x="2041.1" y="733.5" font-family="Liberation Serif, serif" font-weight="bold" font-size="58" text-anchor="middle" letter-spacing="1.6">5.5</text>
<text x="2158.4" y="733.5" font-family="Liberation Serif, serif" font-weight="bold" font-size="58" text-anchor="middle">6</text>
<text x="1681" y="815" font-family="Liberation Serif, serif" font-weight="bold" font-size="58" text-anchor="middle">hν</text>
<text transform="translate(1053,454.5) rotate(-90)" font-family="Liberation Serif, serif" font-weight="bold" font-size="58">(αhν)<tspan font-size="38" dy="-17" dx="1">1/2</tspan></text>
<g clip-path="url(#ci)">
<polyline points="1196.0,551.7 1201.6,551.7 1204.0,551.7 1206.4,547.3 1208.8,547.3 1211.2,542.9 1213.6,542.9 1215.9,542.9 1218.3,538.5 1220.7,538.5 1223.1,534.1 1225.5,534.1 1227.9,529.7 1230.3,529.7 1232.7,529.7 1235.1,525.3 1237.5,525.3 1239.8,520.9 1242.2,520.9 1244.6,520.9 1247.0,516.5 1249.4,516.5 1251.8,512.1 1254.2,512.1 1256.6,512.1 1259.0,507.7 1261.4,507.7 1263.7,503.3 1266.1,503.3 1268.5,503.3 1270.9,498.9 1273.3,498.9 1275.7,498.9 1278.1,494.5 1280.5,494.5 1282.9,490.1 1285.3,490.1 1287.6,490.1 1290.0,485.7 1292.4,485.7 1294.8,485.7 1297.2,485.7 1299.6,481.3 1302.0,481.3 1304.4,481.3 1306.8,481.3 1309.2,481.3 1311.5,476.9 1313.9,476.9 1316.3,476.9 1318.7,476.9 1321.1,476.9 1323.5,472.5 1325.9,472.5 1328.3,472.5 1330.7,472.5 1333.1,472.5 1335.4,472.5 1337.8,472.5 1340.2,472.5 1342.6,472.5 1345.0,472.5 1347.4,472.5 1349.8,472.5 1352.2,472.5 1354.6,472.5 1357.0,472.5 1359.3,472.5 1361.7,472.5 1364.1,472.5 1366.5,472.5 1368.9,472.5 1371.3,472.5 1373.7,472.5 1376.1,472.5 1378.5,472.5 1380.9,472.5 1383.2,472.5 1385.6,472.5 1388.0,472.5 1390.4,472.5 1392.8,472.5 1395.2,472.5 1397.6,472.5 1400.0,472.5 1402.4,476.9 1404.8,476.9 1407.1,476.9 1409.5,476.9 1411.9,476.9 1414.3,481.3 1416.7,481.3 1419.1,481.3 1421.5,481.3 1423.9,481.3 1426.3,485.7 1428.7,485.7 1431.0,485.7 1433.4,485.7 1435.8,485.7 1438.2,485.7 1440.6,490.1 1443.0,490.1 1445.4,490.1 1447.8,490.1 1450.2,490.1 1452.6,490.1 1454.9,490.1 1457.3,490.1 1459.7,490.1 1462.1,490.1 1464.5,490.1 1466.9,490.1 1469.3,490.1 1471.7,490.1 1474.1,490.1 1476.5,490.1 1478.8,485.7 1481.2,485.7 1483.6,481.3 1486.0,476.9 1488.4,472.5 1490.8,468.1 1493.2,463.7 1495.6,463.7 1498.0,459.3 1500.4,454.9 1502.7,454.9 1505.1,450.5 1507.5,446.1 1509.9,446.1 1512.3,441.7 1514.7,437.3 1517.1,432.9 1519.5,428.5 1521.9,424.1 1524.3,419.7 1526.6,415.3 1529.0,410.9 1531.4,406.5 1533.8,402.1 1536.2,393.3 1538.6,388.9 1541.0,380.1 1543.4,375.7 1545.8,371.3 1548.2,366.9 1550.5,358.1 1552.9,353.7 1555.3,349.3 1557.7,340.5 1560.1,336.1 1562.5,331.7 1564.9,327.3 1567.3,318.5 1569.7,318.5 1572.1,318.5 1574.4,314.1 1576.8,314.1 1579.2,309.7 1581.6,309.7 1584.0,305.3 1586.4,305.3 1588.8,305.3 1591.2,300.9 1593.6,292.1 1596.0,287.7 1598.3,283.3 1600.7,278.9 1603.1,274.5 1605.5,274.5 1607.9,270.1 1610.3,265.7 1612.7,261.3 1615.1,261.3 1617.5,256.9 1619.9,256.9 1622.2,252.5 1624.6,252.5 1627.0,248.1 1629.4,248.1 1631.8,243.7 1634.2,243.7 1636.6,243.7 1639.0,239.3 1641.4,239.3 1643.8,239.3 1646.1,234.9 1648.5,234.9 1650.9,234.9 1653.3,234.9 1655.7,230.5 1658.1,230.5 1660.5,230.5 1662.9,230.5 1665.3,230.5 1667.7,230.5 1670.0,230.5 1672.4,226.1 1674.8,226.1 1677.2,226.1 1679.6,226.1 1682.0,226.1 1684.4,226.1 1686.8,226.1 1689.2,226.1 1691.6,226.1 1693.9,221.7 1696.3,221.7 1698.7,221.7 1701.1,221.7 1703.5,221.7 1705.9,221.7 1708.3,221.7 1710.7,221.7 1713.1,226.1 1715.5,221.7 1717.8,221.7 1720.2,226.1 1722.6,217.3 1725.0,221.7 1727.4,221.7 1729.8,217.3 1732.2,221.7 1734.6,221.7 1737.0,226.1 1739.4,221.7 1741.7,221.7 1744.1,221.7 1746.5,221.7 1748.9,221.7 1751.3,221.7 1753.7,221.7 1756.1,221.7 1758.5,221.7 1760.9,217.3 1763.3,221.7 1765.6,221.7 1768.0,217.3 1770.4,212.9 1772.8,221.7 1775.2,221.7 1777.6,217.3 1780.0,217.3 1782.4,217.3 1784.8,217.3 1787.2,212.9 1789.5,217.3 1791.9,217.3 1794.3,208.5 1796.7,212.9 1799.1,212.9 1801.5,212.9 1803.9,212.9 1806.3,208.5 1808.7,208.5 1811.1,208.5 1813.4,212.9 1815.8,212.9 1818.2,208.5 1820.6,208.5 1823.0,208.5 1825.4,204.1 1827.8,208.5 1830.2,208.5 1832.6,204.1 1835.0,204.1 1837.3,204.1 1839.7,199.7 1842.1,204.1 1844.5,204.1 1846.9,204.1 1849.3,199.7 1851.7,204.1 1854.1,199.7 1856.5,204.1 1858.9,199.7 1861.2,195.3 1863.6,199.7 1866.0,195.3 1868.4,199.7 1870.8,199.7 1873.2,195.3 1875.6,199.7 1878.0,195.3 1880.4,199.7 1882.8,195.3 1885.1,195.3 1887.5,195.3 1889.9,195.3 1892.3,190.9 1894.7,190.9 1897.1,190.9 1899.5,195.3 1901.9,195.3 1904.3,190.9 1906.7,190.9 1909.0,190.9 1911.4,190.9 1913.8,190.9 1916.2,186.5 1918.6,186.5 1921.0,186.5 1923.4,186.5 1925.8,190.9 1928.2,186.5 1930.6,186.5 1932.9,190.9 1935.3,186.5 1937.7,186.5 1940.1,182.1 1942.5,182.1 1944.9,182.1 1947.3,182.1 1949.7,182.1 1952.1,186.5 1954.5,182.1 1956.8,182.1 1959.2,182.1 1961.6,182.1 1964.0,182.1 1966.4,182.1 1968.8,177.7 1971.2,182.1 1973.6,177.7 1976.0,177.7 1978.4,182.1 1980.7,177.7 1983.1,182.1 1985.5,177.7 1987.9,177.7 1990.3,182.1 1992.7,182.1 1995.1,177.7 1997.5,182.1 1999.9,182.1 2002.3,177.7 2004.6,177.7 2007.0,177.7 2009.4,177.7 2011.8,177.7 2014.2,177.7 2016.6,182.1 2019.0,182.1 2021.4,182.1 2023.8,182.1 2026.2,182.1 2028.5,182.1 2030.9,177.7 2033.3,182.1 2035.7,177.7 2038.1,177.7 2040.5,177.7 2042.9,177.7 2045.3,173.3 2047.7,177.7 2050.1,173.3 2052.4,173.3 2054.8,173.3 2057.2,177.7 2059.6,173.3 2062.0,173.3 2064.4,173.3 2066.8,177.7 2069.2,177.7 2071.6,173.3 2074.0,173.3 2076.3,173.3 2078.7,173.3 2081.1,173.3 2083.5,168.9 2085.9,177.7 2088.3,173.3 2090.7,173.3 2093.1,173.3 2095.5,173.3 2097.9,177.7 2100.2,173.3 2102.6,173.3 2105.0,168.9 2107.4,173.3 2109.8,173.3 2112.2,173.3 2114.6,173.3 2117.0,173.3 2119.4,177.7 2121.8,173.3 2124.1,168.9 2126.5,168.9 2128.9,164.5 2131.3,168.9 2133.7,168.9 2136.1,168.9 2138.5,168.9 2140.9,173.3 2143.3,168.9 2145.7,168.9 2148.0,168.9 2150.4,168.9 2152.8,168.9 2155.2,164.5 2165.0,164.5" fill="none" stroke="#BFBFBF" stroke-width="9.8" stroke-linejoin="round" stroke-linecap="butt" />
<polyline points="1196.0,573.7 1201.6,573.7 1204.0,573.7 1206.4,573.7 1208.8,569.3 1211.2,569.3 1213.6,569.3 1215.9,569.3 1218.3,564.9 1220.7,564.9 1223.1,564.9 1225.5,560.5 1227.9,560.5 1230.3,560.5 1232.7,556.1 1235.1,556.1 1237.5,556.1 1239.8,551.7 1242.2,551.7 1244.6,551.7 1247.0,547.3 1249.4,547.3 1251.8,547.3 1254.2,542.9 1256.6,542.9 1259.0,542.9 1261.4,538.5 1263.7,538.5 1266.1,538.5 1268.5,534.1 1270.9,534.1 1273.3,529.7 1275.7,529.7 1278.1,529.7 1280.5,525.3 1282.9,525.3 1285.3,520.9 1287.6,520.9 1290.0,520.9 1292.4,516.5 1294.8,516.5 1297.2,516.5 1299.6,512.1 1302.0,512.1 1304.4,512.1 1306.8,507.7 1309.2,507.7 1311.5,507.7 1313.9,503.3 1316.3,503.3 1318.7,503.3 1321.1,498.9 1323.5,498.9 1325.9,498.9 1328.3,498.9 1330.7,494.5 1333.1,494.5 1335.4,494.5 1337.8,490.1 1340.2,490.1 1342.6,490.1 1345.0,490.1 1347.4,490.1 1349.8,490.1 1352.2,490.1 1354.6,490.1 1357.0,490.1 1359.3,485.7 1361.7,485.7 1364.1,485.7 1366.5,485.7 1368.9,485.7 1371.3,485.7 1373.7,485.7 1376.1,485.7 1378.5,485.7 1380.9,485.7 1383.2,485.7 1385.6,485.7 1388.0,485.7 1390.4,485.7 1392.8,485.7 1395.2,485.7 1397.6,490.1 1400.0,490.1 1402.4,490.1 1404.8,490.1 1407.1,490.1 1409.5,490.1 1411.9,494.5 1414.3,494.5 1416.7,494.5 1419.1,494.5 1421.5,494.5 1423.9,498.9 1426.3,498.9 1428.7,498.9 1431.0,498.9 1433.4,498.9 1435.8,503.3 1438.2,503.3 1440.6,503.3 1443.0,503.3 1445.4,503.3 1447.8,503.3 1450.2,503.3 1452.6,503.3 1454.9,507.7 1457.3,507.7 1459.7,507.7 1462.1,503.3 1464.5,503.3 1466.9,503.3 1469.3,503.3 1471.7,503.3 1474.1,503.3 1476.5,498.9 1478.8,498.9 1481.2,494.5 1483.6,494.5 1486.0,490.1 1488.4,485.7 1490.8,476.9 1493.2,472.5 1495.6,468.1 1498.0,463.7 1500.4,463.7 1502.7,459.3 1505.1,454.9 1507.5,450.5 1509.9,446.1 1512.3,441.7 1514.7,441.7 1517.1,437.3 1519.5,432.9 1521.9,428.5 1524.3,424.1 1526.6,419.7 1529.0,415.3 1531.4,410.9 1533.8,406.5 1536.2,397.7 1538.6,393.3 1541.0,384.5 1543.4,380.1 1545.8,371.3 1548.2,366.9 1550.5,362.5 1552.9,358.1 1555.3,349.3 1557.7,344.9 1560.1,340.5 1562.5,331.7 1564.9,327.3 1567.3,322.9 1569.7,318.5 1572.1,318.5 1574.4,314.1 1576.8,314.1 1579.2,309.7 1581.6,309.7 1584.0,309.7 1586.4,305.3 1588.8,305.3 1591.2,300.9 1593.6,296.5 1596.0,292.1 1598.3,287.7 1600.7,283.3 1603.1,278.9 1605.5,274.5 1607.9,270.1 1610.3,265.7 1612.7,265.7 1615.1,261.3 1617.5,256.9 1619.9,256.9 1622.2,252.5 1624.6,252.5 1627.0,248.1 1629.4,248.1 1631.8,248.1 1634.2,243.7 1636.6,243.7 1639.0,243.7 1641.4,239.3 1643.8,239.3 1646.1,234.9 1648.5,234.9 1650.9,234.9 1653.3,234.9 1655.7,230.5 1658.1,230.5 1660.5,230.5 1662.9,230.5 1665.3,230.5 1667.7,230.5 1670.0,230.5 1672.4,226.1 1674.8,226.1 1677.2,226.1 1679.6,226.1 1682.0,226.1 1684.4,226.1 1686.8,226.1 1689.2,226.1 1691.6,226.1 1693.9,226.1 1696.3,221.7 1698.7,221.7 1701.1,221.7 1703.5,221.7 1705.9,221.7 1708.3,221.7 1710.7,221.7 1713.1,221.7 1715.5,221.7 1717.8,217.3 1720.2,221.7 1722.6,221.7 1725.0,221.7 1727.4,221.7 1729.8,217.3 1732.2,221.7 1734.6,221.7 1737.0,217.3 1739.4,221.7 1741.7,217.3 1744.1,226.1 1746.5,221.7 1748.9,221.7 1751.3,217.3 1753.7,217.3 1756.1,221.7 1758.5,217.3 1760.9,217.3 1763.3,221.7 1765.6,221.7 1768.0,217.3 1770.4,217.3 1772.8,217.3 1775.2,217.3 1777.6,217.3 1780.0,212.9 1782.4,217.3 1784.8,212.9 1787.2,212.9 1789.5,217.3 1791.9,212.9 1794.3,208.5 1796.7,212.9 1799.1,208.5 1801.5,212.9 1803.9,208.5 1806.3,212.9 1808.7,208.5 1811.1,208.5 1813.4,208.5 1815.8,204.1 1818.2,204.1 1820.6,204.1 1823.0,204.1 1825.4,204.1 1827.8,208.5 1830.2,204.1 1832.6,204.1 1835.0,199.7 1837.3,204.1 1839.7,199.7 1842.1,199.7 1844.5,199.7 1846.9,199.7 1849.3,199.7 1851.7,199.7 1854.1,199.7 1856.5,195.3 1858.9,199.7 1861.2,195.3 1863.6,199.7 1866.0,195.3 1868.4,195.3 1870.8,195.3 1873.2,195.3 1875.6,195.3 1878.0,190.9 1880.4,195.3 1882.8,190.9 1885.1,195.3 1887.5,190.9 1889.9,190.9 1892.3,190.9 1894.7,190.9 1897.1,186.5 1899.5,190.9 1901.9,186.5 1904.3,186.5 1906.7,190.9 1909.0,186.5 1911.4,186.5 1913.8,186.5 1916.2,186.5 1918.6,182.1 1921.0,186.5 1923.4,186.5 1925.8,186.5 1928.2,186.5 1930.6,182.1 1932.9,186.5 1935.3,182.1 1937.7,186.5 1940.1,182.1 1942.5,186.5 1944.9,182.1 1947.3,182.1 1949.7,182.1 1952.1,177.7 1954.5,177.7 1956.8,182.1 1959.2,182.1 1961.6,177.7 1964.0,182.1 1966.4,177.7 1968.8,177.7 1971.2,177.7 1973.6,173.3 1976.0,177.7 1978.4,177.7 1980.7,173.3 1983.1,177.7 1985.5,173.3 1987.9,173.3 1990.3,173.3 1992.7,173.3 1995.1,173.3 1997.5,173.3 1999.9,173.3 2002.3,173.3 2004.6,173.3 2007.0,173.3 2009.4,173.3 2011.8,173.3 2014.2,173.3 2016.6,173.3 2019.0,177.7 2021.4,177.7 2023.8,173.3 2026.2,173.3 2028.5,177.7 2030.9,177.7 2033.3,173.3 2035.7,173.3 2038.1,173.3 2040.5,168.9 2042.9,173.3 2045.3,168.9 2047.7,168.9 2050.1,164.5 2052.4,168.9 2054.8,164.5 2057.2,164.5 2059.6,164.5 2062.0,164.5 2064.4,168.9 2066.8,160.1 2069.2,164.5 2071.6,160.1 2074.0,164.5 2076.3,164.5 2078.7,164.5 2081.1,160.1 2083.5,160.1 2085.9,160.1 2088.3,160.1 2090.7,160.1 2093.1,160.1 2095.5,160.1 2097.9,160.1 2100.2,164.5 2102.6,164.5 2105.0,155.7 2107.4,160.1 2109.8,160.1 2112.2,160.1 2114.6,160.1 2117.0,160.1 2119.4,160.1 2121.8,160.1 2124.1,155.7 2126.5,160.1 2128.9,155.7 2131.3,151.3 2133.7,151.3 2136.1,155.7 2138.5,155.7 2140.9,155.7 2143.3,151.3 2145.7,151.3 2148.0,155.7 2150.4,151.3 2152.8,151.3 2155.2,146.9 2165.0,146.9" fill="none" stroke="#FFC000" stroke-width="9.8" stroke-linejoin="round" stroke-linecap="butt" />
<polyline points="1196.0,582.5 1201.6,582.5 1204.0,582.5 1206.4,582.5 1208.8,578.1 1211.2,578.1 1213.6,578.1 1215.9,573.7 1218.3,573.7 1220.7,569.3 1223.1,569.3 1225.5,569.3 1227.9,564.9 1230.3,564.9 1232.7,564.9 1235.1,564.9 1237.5,560.5 1239.8,560.5 1242.2,560.5 1244.6,560.5 1247.0,556.1 1249.4,556.1 1251.8,556.1 1254.2,556.1 1256.6,551.7 1259.0,551.7 1261.4,551.7 1263.7,551.7 1266.1,547.3 1268.5,547.3 1270.9,547.3 1273.3,547.3 1275.7,542.9 1278.1,542.9 1280.5,542.9 1282.9,538.5 1285.3,538.5 1287.6,538.5 1290.0,538.5 1292.4,534.1 1294.8,534.1 1297.2,534.1 1299.6,534.1 1302.0,534.1 1304.4,534.1 1306.8,529.7 1309.2,529.7 1311.5,529.7 1313.9,529.7 1316.3,529.7 1318.7,529.7 1321.1,529.7 1323.5,529.7 1325.9,529.7 1328.3,525.3 1330.7,525.3 1333.1,525.3 1335.4,525.3 1337.8,525.3 1340.2,525.3 1342.6,525.3 1345.0,525.3 1347.4,525.3 1349.8,525.3 1352.2,525.3 1354.6,525.3 1357.0,525.3 1359.3,525.3 1361.7,525.3 1364.1,525.3 1366.5,525.3 1368.9,525.3 1371.3,525.3 1373.7,525.3 1376.1,525.3 1378.5,525.3 1380.9,525.3 1383.2,525.3 1385.6,525.3 1388.0,525.3 1390.4,525.3 1392.8,529.7 1395.2,529.7 1397.6,529.7 1400.0,529.7 1402.4,529.7 1404.8,529.7 1407.1,529.7 1409.5,529.7 1411.9,529.7 1414.3,529.7 1416.7,534.1 1419.1,534.1 1421.5,534.1 1423.9,534.1 1426.3,534.1 1428.7,534.1 1431.0,538.5 1433.4,538.5 1435.8,538.5 1438.2,538.5 1440.6,538.5 1443.0,538.5 1445.4,538.5 1447.8,538.5 1450.2,538.5 1452.6,538.5 1454.9,538.5 1457.3,538.5 1459.7,538.5 1462.1,538.5 1464.5,538.5 1466.9,534.1 1469.3,534.1 1471.7,529.7 1474.1,529.7 1476.5,525.3 1478.8,520.9 1481.2,516.5 1483.6,507.7 1486.0,503.3 1488.4,498.9 1490.8,494.5 1493.2,490.1 1495.6,485.7 1498.0,485.7 1500.4,481.3 1502.7,476.9 1505.1,472.5 1507.5,468.1 1509.9,459.3 1512.3,454.9 1514.7,450.5 1517.1,446.1 1519.5,437.3 1521.9,432.9 1524.3,428.5 1526.6,419.7 1529.0,415.3 1531.4,410.9 1533.8,406.5 1536.2,397.7 1538.6,393.3 1541.0,388.9 1543.4,384.5 1545.8,375.7 1548.2,371.3 1550.5,366.9 1552.9,362.5 1555.3,353.7 1557.7,349.3 1560.1,344.9 1562.5,340.5 1564.9,331.7 1567.3,327.3 1569.7,322.9 1572.1,318.5 1574.4,318.5 1576.8,314.1 1579.2,314.1 1581.6,309.7 1584.0,309.7 1586.4,305.3 1588.8,305.3 1591.2,305.3 1593.6,300.9 1596.0,296.5 1598.3,292.1 1600.7,287.7 1603.1,283.3 1605.5,278.9 1607.9,274.5 1610.3,270.1 1612.7,265.7 1615.1,261.3 1617.5,261.3 1619.9,256.9 1622.2,256.9 1624.6,252.5 1627.0,252.5 1629.4,248.1 1631.8,248.1 1634.2,248.1 1636.6,243.7 1639.0,243.7 1641.4,239.3 1643.8,239.3 1646.1,239.3 1648.5,234.9 1650.9,234.9 1653.3,234.9 1655.7,234.9 1658.1,230.5 1660.5,230.5 1662.9,230.5 1665.3,230.5 1667.7,230.5 1670.0,230.5 1672.4,230.5 1674.8,226.1 1677.2,226.1 1679.6,226.1 1682.0,226.1 1684.4,226.1 1686.8,226.1 1689.2,226.1 1691.6,226.1 1693.9,226.1 1696.3,226.1 1698.7,221.7 1701.1,230.5 1703.5,221.7 1705.9,226.1 1708.3,221.7 1710.7,221.7 1713.1,221.7 1715.5,221.7 1717.8,221.7 1720.2,221.7 1722.6,221.7 1725.0,221.7 1727.4,226.1 1729.8,217.3 1732.2,221.7 1734.6,221.7 1737.0,221.7 1739.4,226.1 1741.7,221.7 1744.1,221.7 1746.5,221.7 1748.9,226.1 1751.3,221.7 1753.7,221.7 1756.1,221.7 1758.5,221.7 1760.9,226.1 1763.3,221.7 1765.6,217.3 1768.0,221.7 1770.4,217.3 1772.8,221.7 1775.2,217.3 1777.6,217.3 1780.0,217.3 1782.4,217.3 1784.8,217.3 1787.2,217.3 1789.5,217.3 1791.9,212.9 1794.3,217.3 1796.7,217.3 1799.1,212.9 1801.5,217.3 1803.9,217.3 1806.3,212.9 1808.7,208.5 1811.1,212.9 1813.4,212.9 1815.8,208.5 1818.2,212.9 1820.6,212.9 1823.0,208.5 1825.4,208.5 1827.8,204.1 1830.2,204.1 1832.6,208.5 1835.0,204.1 1837.3,208.5 1839.7,204.1 1842.1,204.1 1844.5,204.1 1846.9,204.1 1849.3,199.7 1851.7,204.1 1854.1,204.1 1856.5,199.7 1858.9,204.1 1861.2,199.7 1863.6,199.7 1866.0,199.7 1868.4,199.7 1870.8,199.7 1873.2,199.7 1875.6,199.7 1878.0,195.3 1880.4,199.7 1882.8,190.9 1885.1,195.3 1887.5,195.3 1889.9,195.3 1892.3,190.9 1894.7,190.9 1897.1,190.9 1899.5,190.9 1901.9,190.9 1904.3,190.9 1906.7,190.9 1909.0,190.9 1911.4,190.9 1913.8,190.9 1916.2,190.9 1918.6,186.5 1921.0,186.5 1923.4,190.9 1925.8,190.9 1928.2,186.5 1930.6,186.5 1932.9,190.9 1935.3,186.5 1937.7,186.5 1940.1,186.5 1942.5,186.5 1944.9,186.5 1947.3,186.5 1949.7,186.5 1952.1,186.5 1954.5,182.1 1956.8,186.5 1959.2,182.1 1961.6,182.1 1964.0,182.1 1966.4,182.1 1968.8,182.1 1971.2,182.1 1973.6,186.5 1976.0,177.7 1978.4,177.7 1980.7,182.1 1983.1,182.1 1985.5,182.1 1987.9,182.1 1990.3,177.7 1992.7,177.7 1995.1,177.7 1997.5,177.7 1999.9,182.1 2002.3,177.7 2004.6,177.7 2007.0,177.7 2009.4,177.7 2011.8,177.7 2014.2,177.7 2016.6,182.1 2019.0,182.1 2021.4,182.1 2023.8,182.1 2026.2,182.1 2028.5,177.7 2030.9,177.7 2033.3,177.7 2035.7,177.7 2038.1,177.7 2040.5,177.7 2042.9,177.7 2045.3,173.3 2047.7,173.3 2050.1,173.3 2052.4,173.3 2054.8,173.3 2057.2,173.3 2059.6,173.3 2062.0,173.3 2064.4,177.7 2066.8,173.3 2069.2,173.3 2071.6,173.3 2074.0,173.3 2076.3,173.3 2078.7,173.3 2081.1,173.3 2083.5,168.9 2085.9,173.3 2088.3,173.3 2090.7,173.3 2093.1,173.3 2095.5,173.3 2097.9,168.9 2100.2,173.3 2102.6,173.3 2105.0,173.3 2107.4,168.9 2109.8,168.9 2112.2,168.9 2114.6,168.9 2117.0,168.9 2119.4,168.9 2121.8,168.9 2124.1,168.9 2126.5,168.9 2128.9,168.9 2131.3,164.5 2133.7,160.1 2136.1,164.5 2138.5,164.5 2140.9,168.9 2143.3,168.9 2145.7,164.5 2148.0,160.1 2150.4,164.5 2152.8,164.5 2155.2,164.5 2165.0,164.5" fill="none" stroke="#2E852B" stroke-width="9.8" stroke-linejoin="round" stroke-linecap="butt" />
<polyline points="1196.0,600.1 1201.6,600.1 1204.0,600.1 1206.4,600.1 1208.8,600.1 1211.2,595.7 1213.6,595.7 1215.9,595.7 1218.3,595.7 1220.7,595.7 1223.1,591.3 1225.5,591.3 1227.9,591.3 1230.3,591.3 1232.7,591.3 1235.1,586.9 1237.5,586.9 1239.8,586.9 1242.2,586.9 1244.6,582.5 1247.0,582.5 1249.4,582.5 1251.8,582.5 1254.2,582.5 1256.6,578.1 1259.0,578.1 1261.4,578.1 1263.7,578.1 1266.1,573.7 1268.5,573.7 1270.9,573.7 1273.3,573.7 1275.7,573.7 1278.1,569.3 1280.5,569.3 1282.9,569.3 1285.3,569.3 1287.6,564.9 1290.0,564.9 1292.4,564.9 1294.8,564.9 1297.2,564.9 1299.6,560.5 1302.0,560.5 1304.4,560.5 1306.8,560.5 1309.2,560.5 1311.5,560.5 1313.9,560.5 1316.3,556.1 1318.7,556.1 1321.1,556.1 1323.5,556.1 1325.9,556.1 1328.3,556.1 1330.7,551.7 1333.1,551.7 1335.4,551.7 1337.8,551.7 1340.2,551.7 1342.6,551.7 1345.0,551.7 1347.4,551.7 1349.8,551.7 1352.2,547.3 1354.6,547.3 1357.0,547.3 1359.3,547.3 1361.7,547.3 1364.1,547.3 1366.5,547.3 1368.9,547.3 1371.3,547.3 1373.7,547.3 1376.1,547.3 1378.5,547.3 1380.9,547.3 1383.2,547.3 1385.6,547.3 1388.0,547.3 1390.4,547.3 1392.8,547.3 1395.2,547.3 1397.6,551.7 1400.0,551.7 1402.4,551.7 1404.8,551.7 1407.1,551.7 1409.5,551.7 1411.9,551.7 1414.3,551.7 1416.7,551.7 1419.1,551.7 1421.5,551.7 1423.9,551.7 1426.3,551.7 1428.7,551.7 1431.0,551.7 1433.4,551.7 1435.8,551.7 1438.2,551.7 1440.6,556.1 1443.0,556.1 1445.4,556.1 1447.8,556.1 1450.2,556.1 1452.6,556.1 1454.9,556.1 1457.3,556.1 1459.7,556.1 1462.1,556.1 1464.5,551.7 1466.9,551.7 1469.3,547.3 1471.7,542.9 1474.1,542.9 1476.5,534.1 1478.8,529.7 1481.2,529.7 1483.6,525.3 1486.0,520.9 1488.4,516.5 1490.8,512.1 1493.2,512.1 1495.6,507.7 1498.0,507.7 1500.4,503.3 1502.7,503.3 1505.1,503.3 1507.5,498.9 1509.9,494.5 1512.3,485.7 1514.7,481.3 1517.1,476.9 1519.5,472.5 1521.9,463.7 1524.3,459.3 1526.6,454.9 1529.0,450.5 1531.4,441.7 1533.8,437.3 1536.2,432.9 1538.6,428.5 1541.0,419.7 1543.4,415.3 1545.8,410.9 1548.2,406.5 1550.5,397.7 1552.9,393.3 1555.3,388.9 1557.7,380.1 1560.1,375.7 1562.5,371.3 1564.9,366.9 1567.3,358.1 1569.7,353.7 1572.1,349.3 1574.4,344.9 1576.8,336.1 1579.2,331.7 1581.6,327.3 1584.0,322.9 1586.4,318.5 1588.8,318.5 1591.2,314.1 1593.6,314.1 1596.0,309.7 1598.3,309.7 1600.7,305.3 1603.1,305.3 1605.5,305.3 1607.9,300.9 1610.3,296.5 1612.7,292.1 1615.1,283.3 1617.5,278.9 1619.9,274.5 1622.2,274.5 1624.6,270.1 1627.0,265.7 1629.4,261.3 1631.8,261.3 1634.2,256.9 1636.6,256.9 1639.0,252.5 1641.4,252.5 1643.8,248.1 1646.1,248.1 1648.5,248.1 1650.9,243.7 1653.3,243.7 1655.7,239.3 1658.1,239.3 1660.5,239.3 1662.9,234.9 1665.3,234.9 1667.7,234.9 1670.0,234.9 1672.4,230.5 1674.8,230.5 1677.2,230.5 1679.6,230.5 1682.0,230.5 1684.4,230.5 1686.8,230.5 1689.2,226.1 1691.6,226.1 1693.9,226.1 1696.3,226.1 1698.7,226.1 1701.1,226.1 1703.5,226.1 1705.9,226.1 1708.3,230.5 1710.7,226.1 1713.1,221.7 1715.5,221.7 1717.8,221.7 1720.2,226.1 1722.6,221.7 1725.0,221.7 1727.4,221.7 1729.8,221.7 1732.2,221.7 1734.6,221.7 1737.0,221.7 1739.4,226.1 1741.7,221.7 1744.1,226.1 1746.5,226.1 1748.9,226.1 1751.3,226.1 1753.7,230.5 1756.1,230.5 1758.5,230.5 1760.9,226.1 1763.3,226.1 1765.6,230.5 1768.0,230.5 1770.4,230.5 1772.8,226.1 1775.2,226.1 1777.6,226.1 1780.0,226.1 1782.4,221.7 1784.8,221.7 1787.2,221.7 1789.5,221.7 1791.9,221.7 1794.3,221.7 1796.7,221.7 1799.1,221.7 1801.5,217.3 1803.9,221.7 1806.3,221.7 1808.7,217.3 1811.1,217.3 1813.4,217.3 1815.8,217.3 1818.2,217.3 1820.6,217.3 1823.0,212.9 1825.4,217.3 1827.8,212.9 1830.2,212.9 1832.6,212.9 1835.0,212.9 1837.3,212.9 1839.7,208.5 1842.1,208.5 1844.5,208.5 1846.9,208.5 1849.3,208.5 1851.7,208.5 1854.1,208.5 1856.5,208.5 1858.9,208.5 1861.2,208.5 1863.6,204.1 1866.0,204.1 1868.4,204.1 1870.8,204.1 1873.2,204.1 1875.6,199.7 1878.0,204.1 1880.4,204.1 1882.8,199.7 1885.1,199.7 1887.5,199.7 1889.9,199.7 1892.3,199.7 1894.7,199.7 1897.1,195.3 1899.5,199.7 1901.9,195.3 1904.3,199.7 1906.7,199.7 1909.0,195.3 1911.4,195.3 1913.8,195.3 1916.2,195.3 1918.6,195.3 1921.0,195.3 1923.4,190.9 1925.8,195.3 1928.2,195.3 1930.6,190.9 1932.9,195.3 1935.3,195.3 1937.7,190.9 1940.1,190.9 1942.5,190.9 1944.9,186.5 1947.3,190.9 1949.7,190.9 1952.1,190.9 1954.5,190.9 1956.8,190.9 1959.2,186.5 1961.6,190.9 1964.0,186.5 1966.4,186.5 1968.8,186.5 1971.2,186.5 1973.6,186.5 1976.0,182.1 1978.4,186.5 1980.7,186.5 1983.1,186.5 1985.5,182.1 1987.9,186.5 1990.3,182.1 1992.7,186.5 1995.1,186.5 1997.5,182.1 1999.9,182.1 2002.3,182.1 2004.6,182.1 2007.0,182.1 2009.4,182.1 2011.8,182.1 2014.2,182.1 2016.6,182.1 2019.0,190.9 2021.4,186.5 2023.8,186.5 2026.2,186.5 2028.5,186.5 2030.9,186.5 2033.3,182.1 2035.7,182.1 2038.1,182.1 2040.5,182.1 2042.9,177.7 2045.3,177.7 2047.7,173.3 2050.1,177.7 2052.4,173.3 2054.8,177.7 2057.2,177.7 2059.6,177.7 2062.0,177.7 2064.4,173.3 2066.8,177.7 2069.2,173.3 2071.6,173.3 2074.0,177.7 2076.3,173.3 2078.7,173.3 2081.1,173.3 2083.5,177.7 2085.9,173.3 2088.3,173.3 2090.7,173.3 2093.1,173.3 2095.5,173.3 2097.9,173.3 2100.2,173.3 2102.6,173.3 2105.0,168.9 2107.4,173.3 2109.8,173.3 2112.2,168.9 2114.6,168.9 2117.0,173.3 2119.4,168.9 2121.8,164.5 2124.1,164.5 2126.5,164.5 2128.9,168.9 2131.3,164.5 2133.7,160.1 2136.1,164.5 2138.5,164.5 2140.9,164.5 2143.3,164.5 2145.7,164.5 2148.0,164.5 2150.4,160.1 2152.8,160.1 2155.2,160.1 2165.0,160.1" fill="none" stroke="#3A3535" stroke-width="9.8" stroke-linejoin="round" stroke-linecap="butt" />
<polyline points="1196.0,626.5 1201.6,626.5 1204.0,626.5 1206.4,626.5 1208.8,626.5 1211.2,626.5 1213.6,626.5 1215.9,626.5 1218.3,626.5 1220.7,626.5 1223.1,626.5 1225.5,626.5 1227.9,626.5 1230.3,626.5 1232.7,626.5 1235.1,626.5 1237.5,626.5 1239.8,626.5 1242.2,626.5 1244.6,626.5 1247.0,626.5 1249.4,626.5 1251.8,626.5 1254.2,626.5 1256.6,626.5 1259.0,626.5 1261.4,626.5 1263.7,626.5 1266.1,626.5 1268.5,626.5 1270.9,626.5 1273.3,626.5 1275.7,626.5 1278.1,626.5 1280.5,626.5 1282.9,626.5 1285.3,626.5 1287.6,626.5 1290.0,626.5 1292.4,622.1 1294.8,622.1 1297.2,622.1 1299.6,622.1 1302.0,622.1 1304.4,622.1 1306.8,622.1 1309.2,622.1 1311.5,622.1 1313.9,622.1 1316.3,622.1 1318.7,622.1 1321.1,622.1 1323.5,622.1 1325.9,622.1 1328.3,622.1 1330.7,622.1 1333.1,622.1 1335.4,622.1 1337.8,622.1 1340.2,622.1 1342.6,622.1 1345.0,622.1 1347.4,622.1 1349.8,622.1 1352.2,617.7 1354.6,617.7 1357.0,617.7 1359.3,617.7 1361.7,617.7 1364.1,617.7 1366.5,617.7 1368.9,617.7 1371.3,617.7 1373.7,617.7 1376.1,617.7 1378.5,617.7 1380.9,617.7 1383.2,617.7 1385.6,617.7 1388.0,617.7 1390.4,617.7 1392.8,617.7 1395.2,617.7 1397.6,617.7 1400.0,613.3 1402.4,613.3 1404.8,613.3 1407.1,613.3 1409.5,613.3 1411.9,613.3 1414.3,613.3 1416.7,613.3 1419.1,613.3 1421.5,613.3 1423.9,613.3 1426.3,613.3 1428.7,613.3 1431.0,608.9 1433.4,608.9 1435.8,608.9 1438.2,608.9 1440.6,604.5 1443.0,604.5 1445.4,600.1 1447.8,600.1 1450.2,595.7 1452.6,595.7 1454.9,591.3 1457.3,586.9 1459.7,586.9 1462.1,582.5 1464.5,578.1 1466.9,578.1 1469.3,573.7 1471.7,564.9 1474.1,560.5 1476.5,556.1 1478.8,547.3 1481.2,542.9 1483.6,538.5 1486.0,534.1 1488.4,525.3 1490.8,520.9 1493.2,516.5 1495.6,512.1 1498.0,503.3 1500.4,498.9 1502.7,494.5 1505.1,490.1 1507.5,481.3 1509.9,476.9 1512.3,472.5 1514.7,468.1 1517.1,459.3 1519.5,454.9 1521.9,450.5 1524.3,441.7 1526.6,437.3 1529.0,432.9 1531.4,428.5 1533.8,419.7 1536.2,415.3 1538.6,410.9 1541.0,406.5 1543.4,397.7 1545.8,393.3 1548.2,388.9 1550.5,384.5 1552.9,375.7 1555.3,371.3 1557.7,366.9 1560.1,362.5 1562.5,353.7 1564.9,349.3 1567.3,344.9 1569.7,336.1 1572.1,331.7 1574.4,327.3 1576.8,322.9 1579.2,318.5 1581.6,318.5 1584.0,314.1 1586.4,314.1 1588.8,309.7 1591.2,309.7 1593.6,305.3 1596.0,305.3 1598.3,305.3 1600.7,300.9 1603.1,296.5 1605.5,292.1 1607.9,287.7 1610.3,278.9 1612.7,278.9 1615.1,274.5 1617.5,270.1 1619.9,265.7 1622.2,261.3 1624.6,261.3 1627.0,256.9 1629.4,256.9 1631.8,252.5 1634.2,252.5 1636.6,248.1 1639.0,248.1 1641.4,248.1 1643.8,243.7 1646.1,243.7 1648.5,239.3 1650.9,239.3 1653.3,239.3 1655.7,234.9 1658.1,234.9 1660.5,234.9 1662.9,234.9 1665.3,230.5 1667.7,230.5 1670.0,230.5 1672.4,230.5 1674.8,230.5 1677.2,230.5 1679.6,230.5 1682.0,226.1 1684.4,226.1 1686.8,226.1 1689.2,226.1 1691.6,226.1 1693.9,226.1 1696.3,226.1 1698.7,226.1 1701.1,226.1 1703.5,221.7 1705.9,221.7 1708.3,226.1 1710.7,221.7 1713.1,221.7 1715.5,221.7 1717.8,221.7 1720.2,221.7 1722.6,221.7 1725.0,221.7 1727.4,221.7 1729.8,221.7 1732.2,221.7 1734.6,221.7 1737.0,226.1 1739.4,221.7 1741.7,221.7 1744.1,226.1 1746.5,221.7 1748.9,221.7 1751.3,221.7 1753.7,226.1 1756.1,221.7 1758.5,221.7 1760.9,221.7 1763.3,226.1 1765.6,221.7 1768.0,221.7 1770.4,221.7 1772.8,221.7 1775.2,221.7 1777.6,217.3 1780.0,221.7 1782.4,217.3 1784.8,217.3 1787.2,217.3 1789.5,217.3 1791.9,217.3 1794.3,217.3 1796.7,212.9 1799.1,212.9 1801.5,212.9 1803.9,212.9 1806.3,212.9 1808.7,212.9 1811.1,212.9 1813.4,212.9 1815.8,208.5 1818.2,208.5 1820.6,208.5 1823.0,208.5 1825.4,208.5 1827.8,208.5 1830.2,208.5 1832.6,208.5 1835.0,208.5 1837.3,204.1 1839.7,204.1 1842.1,204.1 1844.5,204.1 1846.9,208.5 1849.3,204.1 1851.7,204.1 1854.1,204.1 1856.5,204.1 1858.9,204.1 1861.2,199.7 1863.6,204.1 1866.0,199.7 1868.4,204.1 1870.8,199.7 1873.2,195.3 1875.6,195.3 1878.0,199.7 1880.4,199.7 1882.8,195.3 1885.1,199.7 1887.5,195.3 1889.9,195.3 1892.3,195.3 1894.7,190.9 1897.1,195.3 1899.5,190.9 1901.9,195.3 1904.3,190.9 1906.7,190.9 1909.0,195.3 1911.4,190.9 1913.8,190.9 1916.2,190.9 1918.6,186.5 1921.0,190.9 1923.4,190.9 1925.8,190.9 1928.2,190.9 1930.6,190.9 1932.9,190.9 1935.3,190.9 1937.7,190.9 1940.1,186.5 1942.5,186.5 1944.9,182.1 1947.3,186.5 1949.7,182.1 1952.1,186.5 1954.5,186.5 1956.8,186.5 1959.2,182.1 1961.6,186.5 1964.0,182.1 1966.4,182.1 1968.8,182.1 1971.2,182.1 1973.6,182.1 1976.0,182.1 1978.4,177.7 1980.7,177.7 1983.1,177.7 1985.5,177.7 1987.9,177.7 1990.3,177.7 1992.7,177.7 1995.1,177.7 1997.5,177.7 1999.9,177.7 2002.3,173.3 2004.6,177.7 2007.0,177.7 2009.4,177.7 2011.8,177.7 2014.2,177.7 2016.6,177.7 2019.0,182.1 2021.4,182.1 2023.8,182.1 2026.2,177.7 2028.5,177.7 2030.9,177.7 2033.3,177.7 2035.7,177.7 2038.1,177.7 2040.5,173.3 2042.9,173.3 2045.3,173.3 2047.7,168.9 2050.1,168.9 2052.4,168.9 2054.8,168.9 2057.2,168.9 2059.6,173.3 2062.0,168.9 2064.4,168.9 2066.8,173.3 2069.2,168.9 2071.6,168.9 2074.0,168.9 2076.3,168.9 2078.7,164.5 2081.1,168.9 2083.5,164.5 2085.9,168.9 2088.3,164.5 2090.7,164.5 2093.1,168.9 2095.5,164.5 2097.9,164.5 2100.2,164.5 2102.6,164.5 2105.0,168.9 2107.4,164.5 2109.8,164.5 2112.2,164.5 2114.6,164.5 2117.0,160.1 2119.4,160.1 2121.8,164.5 2124.1,164.5 2126.5,160.1 2128.9,160.1 2131.3,151.3 2133.7,155.7 2136.1,155.7 2138.5,155.7 2140.9,155.7 2143.3,160.1 2145.7,160.1 2148.0,160.1 2150.4,155.7 2152.8,155.7 2155.2,151.3 2165.0,151.3" fill="none" stroke="#E05A00" stroke-width="9.8" stroke-linejoin="round" stroke-linecap="butt" />
<polyline points="1196.0,644.1 1201.6,644.1 1204.0,644.1 1206.4,639.7 1208.8,639.7 1211.2,639.7 1213.6,639.7 1215.9,639.7 1218.3,639.7 1220.7,639.7 1223.1,639.7 1225.5,639.7 1227.9,639.7 1230.3,639.7 1232.7,639.7 1235.1,639.7 1237.5,639.7 1239.8,639.7 1242.2,639.7 1244.6,639.7 1247.0,639.7 1249.4,639.7 1251.8,639.7 1254.2,639.7 1256.6,635.3 1259.0,635.3 1261.4,635.3 1263.7,635.3 1266.1,635.3 1268.5,635.3 1270.9,635.3 1273.3,635.3 1275.7,635.3 1278.1,635.3 1280.5,635.3 1282.9,635.3 1285.3,635.3 1287.6,635.3 1290.0,635.3 1292.4,635.3 1294.8,635.3 1297.2,635.3 1299.6,635.3 1302.0,635.3 1304.4,635.3 1306.8,635.3 1309.2,635.3 1311.5,635.3 1313.9,630.9 1316.3,630.9 1318.7,630.9 1321.1,630.9 1323.5,630.9 1325.9,630.9 1328.3,630.9 1330.7,630.9 1333.1,630.9 1335.4,630.9 1337.8,630.9 1340.2,630.9 1342.6,630.9 1345.0,630.9 1347.4,630.9 1349.8,630.9 1352.2,630.9 1354.6,630.9 1357.0,630.9 1359.3,630.9 1361.7,630.9 1364.1,630.9 1366.5,630.9 1368.9,630.9 1371.3,626.5 1373.7,626.5 1376.1,626.5 1378.5,626.5 1380.9,626.5 1383.2,626.5 1385.6,626.5 1388.0,626.5 1390.4,626.5 1392.8,626.5 1395.2,626.5 1397.6,626.5 1400.0,626.5 1402.4,626.5 1404.8,626.5 1407.1,626.5 1409.5,626.5 1411.9,626.5 1414.3,626.5 1416.7,626.5 1419.1,626.5 1421.5,622.1 1423.9,622.1 1426.3,622.1 1428.7,622.1 1431.0,622.1 1433.4,622.1 1435.8,617.7 1438.2,617.7 1440.6,617.7 1443.0,617.7 1445.4,617.7 1447.8,613.3 1450.2,613.3 1452.6,613.3 1454.9,613.3 1457.3,608.9 1459.7,608.9 1462.1,604.5 1464.5,604.5 1466.9,600.1 1469.3,595.7 1471.7,595.7 1474.1,591.3 1476.5,586.9 1478.8,582.5 1481.2,578.1 1483.6,569.3 1486.0,564.9 1488.4,556.1 1490.8,551.7 1493.2,547.3 1495.6,547.3 1498.0,542.9 1500.4,538.5 1502.7,534.1 1505.1,529.7 1507.5,525.3 1509.9,520.9 1512.3,516.5 1514.7,512.1 1517.1,507.7 1519.5,498.9 1521.9,494.5 1524.3,490.1 1526.6,485.7 1529.0,481.3 1531.4,476.9 1533.8,468.1 1536.2,463.7 1538.6,459.3 1541.0,454.9 1543.4,446.1 1545.8,441.7 1548.2,437.3 1550.5,432.9 1552.9,424.1 1555.3,419.7 1557.7,415.3 1560.1,410.9 1562.5,402.1 1564.9,397.7 1567.3,393.3 1569.7,388.9 1572.1,384.5 1574.4,375.7 1576.8,371.3 1579.2,366.9 1581.6,362.5 1584.0,358.1 1586.4,353.7 1588.8,349.3 1591.2,344.9 1593.6,340.5 1596.0,336.1 1598.3,331.7 1600.7,327.3 1603.1,322.9 1605.5,318.5 1607.9,309.7 1610.3,305.3 1612.7,300.9 1615.1,296.5 1617.5,292.1 1619.9,287.7 1622.2,283.3 1624.6,278.9 1627.0,274.5 1629.4,274.5 1631.8,270.1 1634.2,265.7 1636.6,265.7 1639.0,261.3 1641.4,261.3 1643.8,256.9 1646.1,256.9 1648.5,252.5 1650.9,252.5 1653.3,248.1 1655.7,248.1 1658.1,248.1 1660.5,243.7 1662.9,243.7 1665.3,243.7 1667.7,243.7 1670.0,239.3 1672.4,239.3 1674.8,239.3 1677.2,239.3 1679.6,239.3 1682.0,234.9 1684.4,234.9 1686.8,234.9 1689.2,234.9 1691.6,234.9 1693.9,234.9 1696.3,234.9 1698.7,230.5 1701.1,234.9 1703.5,230.5 1705.9,230.5 1708.3,234.9 1710.7,230.5 1713.1,230.5 1715.5,230.5 1717.8,230.5 1720.2,226.1 1722.6,226.1 1725.0,226.1 1727.4,226.1 1729.8,226.1 1732.2,226.1 1734.6,226.1 1737.0,226.1 1739.4,221.7 1741.7,221.7 1744.1,221.7 1746.5,226.1 1748.9,221.7 1751.3,226.1 1753.7,221.7 1756.1,221.7 1758.5,221.7 1760.9,221.7 1763.3,221.7 1765.6,221.7 1768.0,221.7 1770.4,217.3 1772.8,217.3 1775.2,217.3 1777.6,212.9 1780.0,217.3 1782.4,212.9 1784.8,217.3 1787.2,217.3 1789.5,212.9 1791.9,212.9 1794.3,212.9 1796.7,208.5 1799.1,212.9 1801.5,212.9 1803.9,208.5 1806.3,208.5 1808.7,208.5 1811.1,208.5 1813.4,212.9 1815.8,212.9 1818.2,208.5 1820.6,204.1 1823.0,204.1 1825.4,204.1 1827.8,208.5 1830.2,204.1 1832.6,204.1 1835.0,204.1 1837.3,199.7 1839.7,199.7 1842.1,199.7 1844.5,199.7 1846.9,199.7 1849.3,199.7 1851.7,199.7 1854.1,199.7 1856.5,199.7 1858.9,195.3 1861.2,195.3 1863.6,195.3 1866.0,199.7 1868.4,195.3 1870.8,199.7 1873.2,195.3 1875.6,195.3 1878.0,199.7 1880.4,195.3 1882.8,190.9 1885.1,190.9 1887.5,190.9 1889.9,190.9 1892.3,190.9 1894.7,190.9 1897.1,190.9 1899.5,190.9 1901.9,190.9 1904.3,186.5 1906.7,186.5 1909.0,186.5 1911.4,186.5 1913.8,186.5 1916.2,186.5 1918.6,186.5 1921.0,186.5 1923.4,182.1 1925.8,186.5 1928.2,186.5 1930.6,186.5 1932.9,186.5 1935.3,182.1 1937.7,182.1 1940.1,186.5 1942.5,182.1 1944.9,182.1 1947.3,182.1 1949.7,182.1 1952.1,182.1 1954.5,182.1 1956.8,177.7 1959.2,177.7 1961.6,177.7 1964.0,177.7 1966.4,177.7 1968.8,177.7 1971.2,177.7 1973.6,177.7 1976.0,177.7 1978.4,177.7 1980.7,177.7 1983.1,177.7 1985.5,177.7 1987.9,173.3 1990.3,177.7 1992.7,173.3 1995.1,173.3 1997.5,173.3 1999.9,173.3 2002.3,177.7 2004.6,173.3 2007.0,168.9 2009.4,177.7 2011.8,177.7 2014.2,177.7 2016.6,177.7 2019.0,173.3 2021.4,177.7 2023.8,177.7 2026.2,177.7 2028.5,177.7 2030.9,177.7 2033.3,177.7 2035.7,177.7 2038.1,173.3 2040.5,173.3 2042.9,173.3 2045.3,173.3 2047.7,168.9 2050.1,164.5 2052.4,164.5 2054.8,168.9 2057.2,168.9 2059.6,168.9 2062.0,168.9 2064.4,168.9 2066.8,168.9 2069.2,168.9 2071.6,168.9 2074.0,168.9 2076.3,168.9 2078.7,168.9 2081.1,168.9 2083.5,168.9 2085.9,168.9 2088.3,164.5 2090.7,164.5 2093.1,164.5 2095.5,164.5 2097.9,164.5 2100.2,164.5 2102.6,164.5 2105.0,164.5 2107.4,164.5 2109.8,164.5 2112.2,164.5 2114.6,168.9 2117.0,164.5 2119.4,164.5 2121.8,164.5 2124.1,164.5 2126.5,164.5 2128.9,160.1 2131.3,160.1 2133.7,160.1 2136.1,160.1 2138.5,160.1 2140.9,160.1 2143.3,160.1 2145.7,164.5 2148.0,160.1 2150.4,155.7 2152.8,160.1 2155.2,160.1 2165.0,160.1" fill="none" stroke="#1A70C9" stroke-width="9.8" stroke-linejoin="round" stroke-linecap="butt" />
</g>
<line x1="1464.0" y1="598" x2="1588.6" y2="308" stroke="#E05A00" stroke-width="8" stroke-dasharray="7.5 8.2" stroke-dashoffset="-3"/>
<line x1="1436.0" y1="648" x2="1682.6" y2="74" stroke="#1A70C9" stroke-width="9.6" stroke-dasharray="13 2.7"/>
<line x1="1451" y1="645" x2="1467" y2="606" stroke="#1A70C9" stroke-width="8.5" stroke-dasharray="10 4.5"/>
<rect x="1683.3" y="292" width="8.6" height="318" fill="#000"/>
<polygon points="1674.7,602 1701,602 1687.8,628" fill="#000"/>
<line x1="1721.5" y1="313.4" x2="1800.5" y2="313.4" stroke="#BFBFBF" stroke-width="9.8" stroke-linecap="round"/>
<text x="1810" y="327.9" font-family="Liberation Serif, serif" font-weight="bold" font-size="49.5" letter-spacing="0.4">Cu/TiO2</text>
<line x1="1721.5" y1="371.9" x2="1800.5" y2="371.9" stroke="#FFC000" stroke-width="9.8" stroke-linecap="round"/>
<text x="1810" y="388.3" font-family="Liberation Serif, serif" font-weight="bold" font-size="49.5" letter-spacing="0.4">Cu0.5Ag/TiO2</text>
<line x1="1721.5" y1="434.8" x2="1800.5" y2="434.8" stroke="#2E852B" stroke-width="9.8" stroke-linecap="round"/>
<text x="1810" y="448.7" font-family="Liberation Serif, serif" font-weight="bold" font-size="49.5" letter-spacing="0.4">Cu0.9Ag TiO2</text>
<line x1="1721.5" y1="493.3" x2="1800.5" y2="493.3" stroke="#3A3535" stroke-width="9.8" stroke-linecap="round"/>
<text x="1810" y="509.2" font-family="Liberation Serif, serif" font-weight="bold" font-size="49.5" letter-spacing="0.4">Cu1.5Ag/TiO2</text>
<line x1="1721.5" y1="551.4" x2="1800.5" y2="551.4" stroke="#E05A00" stroke-width="9.8" stroke-linecap="round"/>
<text x="1810" y="569.6" font-family="Liberation Serif, serif" font-weight="bold" font-size="49.5" letter-spacing="0.4">Ag/TiO2</text>
<line x1="1721.5" y1="614.4" x2="1800.5" y2="614.4" stroke="#1A70C9" stroke-width="9.8" stroke-linecap="round"/>
<text x="1810" y="630.0" font-family="Liberation Serif, serif" font-weight="bold" font-size="49.5" letter-spacing="0.4">TiO2</text>
</svg>
</body></html>
